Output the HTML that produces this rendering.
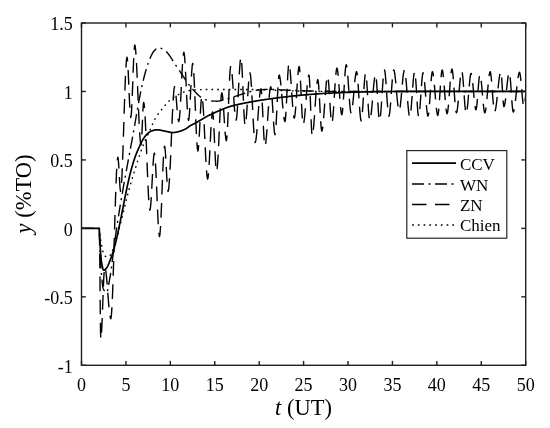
<!DOCTYPE html>
<html><head><meta charset="utf-8"><style>
html,body{margin:0;padding:0;background:#fff;}
svg{display:block;will-change:transform;}
text{font-family:"Liberation Serif",serif;fill:#000;}
</style></head><body>
<svg width="550" height="428" viewBox="0 0 550 428">
<rect width="550" height="428" fill="#fff"/>
<defs><clipPath id="ax"><rect x="81.5" y="23.0" width="444.20" height="342.30"/></clipPath></defs>
<g fill="none" stroke="#000" stroke-width="1.4" stroke-linejoin="round" clip-path="url(#ax)">
<path d="M81.50,228.38 L99.27,228.38 L99.45,232.45 L99.62,236.34 L99.80,239.97 L99.98,243.27 L100.16,246.18 L100.33,248.84 L100.51,251.42 L100.69,253.87 L100.87,256.14 L101.04,258.17 L101.22,259.93 L101.40,261.35 L101.58,262.45 L101.76,263.47 L101.93,264.45 L102.11,265.40 L102.29,266.28 L102.47,267.10 L102.64,267.85 L102.82,268.50 L103.00,269.07 L103.18,269.52 L103.35,269.86 L103.53,270.07 L103.71,270.14 L103.89,270.13 L104.07,270.09 L104.24,270.02 L104.42,269.93 L104.60,269.82 L104.78,269.70 L104.95,269.55 L105.13,269.40 L105.31,269.23 L105.49,269.05 L105.66,268.86 L105.84,268.67 L106.02,268.48 L106.20,268.28 L106.38,268.09 L106.55,267.88 L106.73,267.65 L106.91,267.40 L107.09,267.13 L107.26,266.84 L107.44,266.53 L107.62,266.20 L107.80,265.85 L107.97,265.49 L108.15,265.12 L108.33,264.73 L108.51,264.33 L108.69,263.92 L108.86,263.50 L109.04,263.07 L109.22,262.63 L109.40,262.18 L109.57,261.73 L109.75,261.28 L109.93,260.82 L110.11,260.35 L110.28,259.89 L110.46,259.43 L110.64,258.96 L110.82,258.50 L110.99,258.04 L111.17,257.56 L111.35,257.07 L111.53,256.58 L111.71,256.07 L111.88,255.55 L112.06,255.03 L112.24,254.49 L112.42,253.94 L112.59,253.39 L112.77,252.83 L112.95,252.25 L113.13,251.67 L113.30,251.09 L113.48,250.49 L113.66,249.88 L113.84,249.27 L114.02,248.65 L114.19,248.03 L114.37,247.39 L114.55,246.75 L114.73,246.10 L114.90,245.45 L115.08,244.79 L115.26,244.13 L115.44,243.45 L115.61,242.75 L115.79,242.04 L115.97,241.31 L116.15,240.56 L116.33,239.80 L116.50,239.03 L116.68,238.25 L116.86,237.45 L117.04,236.65 L117.21,235.84 L117.39,235.02 L117.57,234.20 L117.75,233.37 L117.92,232.54 L118.10,231.71 L118.28,230.87 L118.46,230.04 L118.64,229.21 L118.81,228.38 L118.99,227.55 L119.17,226.71 L119.35,225.86 L119.52,225.01 L119.70,224.15 L119.88,223.29 L120.06,222.42 L120.23,221.54 L120.41,220.67 L120.59,219.79 L120.77,218.91 L120.94,218.02 L121.12,217.14 L121.30,216.26 L121.48,215.37 L121.66,214.49 L121.83,213.59 L122.01,212.69 L122.19,211.78 L122.37,210.87 L122.54,209.96 L122.72,209.04 L122.90,208.12 L123.08,207.19 L123.25,206.27 L123.43,205.34 L123.61,204.42 L123.79,203.50 L123.97,202.57 L124.14,201.66 L124.32,200.74 L124.50,199.83 L124.68,198.92 L124.85,198.02 L125.03,197.13 L125.21,196.24 L125.39,195.36 L125.56,194.49 L125.74,193.63 L125.92,192.78 L126.10,191.94 L126.28,191.09 L126.45,190.24 L126.63,189.40 L126.81,188.56 L126.99,187.72 L127.16,186.88 L127.34,186.05 L127.52,185.22 L127.70,184.39 L127.87,183.57 L128.05,182.76 L128.23,181.95 L128.41,181.15 L128.59,180.35 L128.76,179.57 L128.94,178.79 L129.12,178.02 L129.30,177.26 L129.47,176.51 L129.65,175.77 L129.83,175.04 L130.01,174.32 L130.18,173.62 L130.36,172.93 L130.54,172.25 L130.72,171.57 L130.90,170.90 L131.07,170.23 L131.25,169.58 L131.43,168.92 L131.61,168.28 L131.78,167.64 L131.96,167.01 L132.14,166.38 L132.32,165.76 L132.49,165.15 L132.67,164.54 L132.85,163.95 L133.03,163.36 L133.20,162.77 L133.38,162.20 L133.56,161.63 L133.74,161.07 L133.92,160.51 L134.09,159.97 L134.27,159.43 L134.45,158.90 L134.63,158.38 L134.80,157.87 L134.98,157.36 L135.16,156.87 L135.34,156.38 L135.51,155.90 L135.69,155.42 L135.87,154.96 L136.05,154.50 L136.23,154.05 L136.40,153.60 L136.58,153.16 L136.76,152.72 L136.94,152.29 L137.11,151.86 L137.29,151.44 L137.47,151.02 L137.65,150.60 L137.82,150.19 L138.00,149.78 L138.18,149.37 L138.36,148.97 L138.54,148.56 L138.71,148.15 L138.89,147.75 L139.07,147.34 L139.25,146.94 L139.42,146.53 L139.60,146.13 L139.78,145.73 L139.96,145.34 L140.13,144.94 L140.31,144.55 L140.49,144.17 L140.67,143.79 L140.85,143.42 L141.02,143.05 L141.20,142.68 L141.38,142.33 L141.56,141.98 L141.73,141.64 L141.91,141.31 L142.09,140.98 L142.27,140.67 L142.44,140.36 L142.62,140.07 L142.80,139.78 L142.98,139.49 L143.15,139.21 L143.33,138.93 L143.51,138.65 L143.69,138.37 L143.87,138.10 L144.04,137.84 L144.22,137.57 L144.40,137.31 L144.58,137.06 L144.75,136.81 L144.93,136.56 L145.11,136.32 L145.29,136.09 L145.46,135.86 L145.64,135.63 L145.82,135.41 L146.00,135.20 L146.18,135.00 L146.35,134.80 L146.53,134.60 L146.71,134.42 L146.89,134.24 L147.06,134.07 L147.24,133.91 L147.42,133.75 L147.60,133.59 L147.77,133.43 L147.95,133.28 L148.13,133.13 L148.31,132.98 L148.49,132.83 L148.66,132.69 L148.84,132.55 L149.02,132.41 L149.20,132.27 L149.37,132.14 L149.55,132.02 L149.73,131.89 L149.91,131.78 L150.08,131.66 L150.26,131.55 L150.44,131.45 L150.62,131.35 L150.80,131.26 L150.97,131.17 L151.15,131.09 L151.33,131.02 L151.51,130.95 L151.68,130.89 L151.86,130.84 L152.04,130.78 L152.22,130.72 L152.39,130.67 L152.57,130.61 L152.75,130.56 L152.93,130.51 L153.11,130.46 L153.28,130.41 L153.46,130.36 L153.64,130.31 L153.82,130.26 L153.99,130.22 L154.17,130.17 L154.35,130.13 L154.53,130.09 L154.70,130.05 L154.88,130.02 L155.06,129.99 L155.24,129.95 L155.41,129.93 L155.59,129.90 L155.77,129.88 L155.95,129.86 L156.13,129.84 L156.30,129.82 L156.48,129.81 L156.66,129.80 L156.84,129.80 L157.01,129.80 L157.19,129.80 L157.37,129.80 L157.55,129.81 L157.72,129.82 L157.90,129.83 L158.08,129.84 L158.26,129.86 L158.44,129.88 L158.61,129.90 L158.79,129.92 L158.97,129.94 L159.15,129.97 L159.32,129.99 L159.50,130.02 L159.68,130.05 L159.86,130.08 L160.03,130.11 L160.21,130.15 L160.39,130.18 L160.57,130.22 L160.75,130.25 L160.92,130.29 L161.10,130.33 L161.28,130.37 L161.46,130.41 L161.63,130.45 L161.81,130.49 L161.99,130.53 L162.17,130.57 L162.34,130.61 L162.52,130.65 L162.70,130.69 L162.88,130.73 L163.06,130.77 L163.23,130.81 L163.41,130.85 L163.59,130.89 L163.77,130.93 L163.94,130.96 L164.12,131.00 L164.30,131.04 L164.48,131.07 L164.65,131.10 L164.83,131.14 L165.01,131.17 L165.19,131.20 L165.36,131.23 L165.54,131.26 L165.72,131.30 L165.90,131.33 L166.08,131.37 L166.25,131.41 L166.43,131.45 L166.61,131.48 L166.79,131.52 L166.96,131.56 L167.14,131.60 L167.32,131.64 L167.50,131.68 L167.67,131.72 L167.85,131.77 L168.03,131.81 L168.21,131.85 L168.39,131.89 L168.56,131.93 L168.74,131.96 L168.92,132.00 L169.10,132.04 L169.27,132.08 L169.45,132.12 L169.63,132.15 L169.81,132.19 L169.98,132.22 L170.16,132.25 L170.34,132.28 L170.52,132.31 L170.70,132.34 L170.87,132.37 L171.05,132.39 L171.23,132.42 L171.41,132.44 L171.58,132.46 L171.76,132.47 L171.94,132.49 L172.12,132.50 L172.29,132.52 L172.47,132.52 L172.65,132.53 L172.83,132.53 L173.01,132.54 L173.18,132.53 L173.36,132.53 L173.54,132.52 L173.72,132.51 L173.89,132.50 L174.07,132.49 L174.25,132.47 L174.43,132.45 L174.60,132.43 L174.78,132.41 L174.96,132.38 L175.14,132.36 L175.32,132.33 L175.49,132.30 L175.67,132.26 L175.85,132.23 L176.03,132.20 L176.20,132.16 L176.38,132.12 L176.56,132.08 L176.74,132.04 L176.91,132.00 L177.09,131.96 L177.27,131.92 L177.45,131.88 L177.62,131.84 L177.80,131.79 L177.98,131.75 L178.16,131.70 L178.34,131.66 L178.51,131.62 L178.69,131.57 L178.87,131.53 L179.05,131.48 L179.22,131.44 L179.40,131.40 L179.58,131.35 L179.76,131.30 L179.93,131.25 L180.11,131.20 L180.29,131.15 L180.47,131.09 L180.65,131.03 L180.82,130.98 L181.00,130.92 L181.18,130.85 L181.36,130.79 L181.53,130.72 L181.71,130.66 L181.89,130.59 L182.07,130.52 L182.24,130.45 L182.42,130.38 L182.60,130.30 L182.78,130.23 L182.96,130.15 L183.13,130.08 L183.31,130.00 L183.49,129.92 L183.67,129.84 L183.84,129.75 L184.02,129.67 L184.20,129.59 L184.38,129.50 L184.55,129.42 L184.73,129.33 L184.91,129.24 L185.09,129.16 L185.27,129.07 L185.44,128.98 L185.62,128.88 L185.80,128.78 L185.98,128.68 L186.15,128.57 L186.33,128.46 L186.51,128.34 L186.69,128.22 L186.86,128.10 L187.04,127.97 L187.22,127.85 L187.40,127.72 L187.57,127.59 L187.75,127.45 L187.93,127.32 L188.11,127.19 L188.29,127.06 L188.46,126.93 L188.64,126.80 L188.82,126.67 L189.00,126.55 L189.17,126.42 L189.35,126.30 L189.53,126.19 L189.71,126.07 L189.88,125.96 L190.06,125.86 L190.24,125.75 L190.42,125.65 L190.60,125.55 L190.77,125.45 L190.95,125.35 L191.13,125.26 L191.31,125.16 L191.48,125.06 L191.66,124.97 L191.84,124.88 L192.02,124.78 L192.19,124.69 L192.37,124.60 L192.55,124.51 L192.73,124.42 L192.91,124.33 L193.08,124.24 L193.26,124.15 L193.44,124.06 L193.62,123.97 L193.79,123.88 L193.97,123.79 L194.15,123.70 L194.33,123.61 L194.50,123.52 L194.68,123.43 L194.86,123.34 L195.04,123.25 L195.22,123.15 L195.39,123.06 L195.57,122.97 L195.75,122.87 L195.93,122.77 L196.10,122.68 L196.28,122.58 L196.46,122.48 L196.64,122.38 L196.81,122.28 L196.99,122.18 L197.17,122.08 L197.35,121.98 L197.53,121.88 L197.70,121.78 L197.88,121.68 L198.06,121.57 L198.24,121.47 L198.41,121.37 L198.59,121.26 L198.77,121.16 L198.95,121.05 L199.12,120.95 L199.30,120.84 L199.48,120.74 L199.66,120.63 L199.83,120.53 L200.01,120.42 L200.19,120.31 L200.37,120.21 L200.55,120.10 L200.72,120.00 L200.90,119.89 L201.08,119.78 L201.26,119.68 L201.43,119.57 L201.61,119.46 L201.79,119.36 L201.97,119.25 L202.14,119.14 L202.32,119.04 L202.50,118.93 L202.68,118.83 L202.86,118.72 L203.03,118.61 L203.21,118.51 L203.39,118.40 L203.57,118.30 L203.74,118.19 L203.92,118.09 L204.10,117.99 L204.28,117.88 L204.45,117.78 L204.63,117.68 L204.81,117.57 L204.99,117.47 L205.17,117.37 L205.34,117.27 L205.52,117.17 L205.70,117.07 L205.88,116.97 L206.05,116.87 L206.23,116.77 L206.41,116.68 L206.59,116.58 L206.76,116.48 L206.94,116.39 L207.12,116.29 L207.30,116.20 L207.48,116.11 L207.65,116.01 L207.83,115.92 L208.01,115.83 L208.19,115.74 L208.36,115.65 L208.54,115.56 L208.72,115.47 L208.90,115.38 L209.07,115.29 L209.25,115.21 L209.43,115.12 L209.61,115.03 L209.78,114.94 L209.96,114.86 L210.14,114.77 L210.32,114.68 L210.50,114.60 L210.67,114.51 L210.85,114.42 L211.03,114.34 L211.21,114.25 L211.38,114.17 L211.56,114.09 L211.74,114.00 L211.92,113.92 L212.09,113.83 L212.27,113.75 L212.45,113.67 L212.63,113.58 L212.81,113.50 L212.98,113.42 L213.16,113.34 L213.34,113.25 L213.52,113.17 L213.69,113.09 L213.87,113.01 L214.05,112.93 L214.23,112.85 L214.40,112.77 L214.58,112.69 L214.76,112.61 L214.94,112.53 L215.12,112.45 L215.29,112.37 L215.47,112.29 L215.65,112.21 L215.83,112.13 L216.00,112.06 L216.18,111.98 L216.36,111.90 L216.54,111.82 L216.71,111.74 L216.89,111.67 L217.07,111.59 L217.25,111.51 L217.43,111.44 L217.60,111.36 L217.78,111.28 L217.96,111.21 L218.14,111.13 L218.31,111.05 L218.49,110.98 L218.67,110.90 L218.85,110.83 L219.02,110.75 L219.20,110.68 L219.38,110.60 L219.56,110.53 L219.74,110.45 L219.91,110.38 L220.09,110.30 L220.27,110.23 L220.45,110.16 L220.62,110.08 L220.80,110.01 L220.98,109.93 L221.16,109.86 L221.33,109.78 L221.51,109.71 L221.69,109.64 L221.87,109.56 L222.04,109.49 L222.22,109.41 L222.40,109.34 L222.58,109.26 L222.76,109.19 L222.93,109.11 L223.11,109.04 L223.29,108.96 L223.47,108.89 L223.64,108.82 L223.82,108.74 L224.00,108.67 L224.18,108.60 L224.35,108.52 L224.53,108.45 L224.71,108.38 L224.89,108.31 L225.07,108.24 L225.24,108.16 L225.42,108.09 L225.60,108.02 L225.78,107.95 L225.95,107.89 L226.13,107.82 L226.31,107.75 L226.49,107.68 L226.66,107.62 L226.84,107.55 L227.02,107.49 L227.20,107.42 L227.38,107.36 L227.55,107.29 L227.73,107.23 L227.91,107.17 L228.09,107.11 L228.26,107.05 L228.44,106.99 L228.62,106.93 L228.80,106.88 L228.97,106.82 L229.15,106.77 L229.33,106.71 L229.51,106.66 L229.69,106.61 L229.86,106.55 L230.04,106.50 L230.22,106.45 L230.40,106.40 L230.57,106.35 L230.75,106.30 L230.93,106.25 L231.11,106.20 L231.28,106.15 L231.46,106.10 L231.64,106.05 L231.82,106.00 L231.99,105.95 L232.17,105.91 L232.35,105.86 L232.53,105.81 L232.71,105.76 L232.88,105.72 L233.06,105.67 L233.24,105.62 L233.42,105.58 L233.59,105.53 L233.77,105.49 L233.95,105.44 L234.13,105.40 L234.30,105.35 L234.48,105.31 L234.66,105.26 L234.84,105.22 L235.02,105.17 L235.19,105.13 L235.37,105.09 L235.55,105.04 L235.73,105.00 L235.90,104.96 L236.08,104.92 L236.26,104.87 L236.44,104.83 L236.61,104.79 L236.79,104.75 L236.97,104.71 L237.15,104.67 L237.33,104.63 L237.50,104.59 L237.68,104.54 L237.86,104.50 L238.04,104.46 L238.21,104.42 L238.39,104.38 L238.57,104.35 L238.75,104.31 L238.92,104.27 L239.10,104.23 L239.28,104.19 L239.46,104.15 L239.64,104.11 L239.81,104.07 L239.99,104.04 L240.17,104.00 L240.35,103.96 L240.52,103.92 L240.70,103.88 L240.88,103.85 L241.06,103.81 L241.23,103.77 L241.41,103.74 L241.59,103.70 L241.77,103.66 L241.95,103.63 L242.12,103.59 L242.30,103.55 L242.48,103.52 L242.66,103.48 L242.83,103.45 L243.01,103.41 L243.19,103.37 L243.37,103.34 L243.54,103.30 L243.72,103.27 L243.90,103.23 L244.08,103.20 L244.25,103.16 L244.43,103.13 L244.61,103.09 L244.79,103.06 L244.97,103.02 L245.14,102.99 L245.32,102.96 L245.50,102.92 L245.68,102.89 L245.85,102.85 L246.03,102.82 L246.21,102.78 L246.39,102.75 L246.56,102.72 L246.74,102.68 L246.92,102.65 L247.10,102.61 L247.28,102.58 L247.45,102.55 L247.63,102.51 L247.81,102.48 L247.99,102.45 L248.16,102.41 L248.34,102.38 L248.52,102.35 L248.70,102.31 L248.87,102.28 L249.05,102.25 L249.23,102.21 L249.41,102.18 L249.59,102.15 L249.76,102.12 L249.94,102.08 L250.12,102.05 L250.30,102.02 L250.47,101.99 L250.65,101.95 L250.83,101.92 L251.01,101.89 L251.18,101.86 L251.36,101.82 L251.54,101.79 L251.72,101.76 L251.90,101.73 L252.07,101.70 L252.25,101.67 L252.43,101.63 L252.61,101.60 L252.78,101.57 L252.96,101.54 L253.14,101.51 L253.32,101.48 L253.49,101.45 L253.67,101.41 L253.85,101.38 L254.03,101.35 L254.20,101.32 L254.38,101.29 L254.56,101.26 L254.74,101.23 L254.92,101.20 L255.09,101.17 L255.27,101.14 L255.45,101.11 L255.63,101.08 L255.80,101.05 L255.98,101.02 L256.16,100.99 L256.34,100.96 L256.51,100.93 L256.69,100.90 L256.87,100.87 L257.05,100.84 L257.23,100.81 L257.40,100.78 L257.58,100.75 L257.76,100.72 L257.94,100.69 L258.11,100.66 L258.29,100.63 L258.47,100.60 L258.65,100.57 L258.82,100.55 L259.00,100.52 L259.18,100.49 L259.36,100.46 L259.54,100.43 L259.71,100.40 L259.89,100.37 L260.07,100.34 L260.25,100.32 L260.42,100.29 L260.60,100.26 L260.78,100.23 L260.96,100.20 L261.13,100.17 L261.31,100.15 L261.49,100.12 L261.67,100.09 L261.85,100.06 L262.02,100.03 L262.20,100.01 L262.38,99.98 L262.56,99.95 L262.73,99.92 L262.91,99.90 L263.09,99.87 L263.27,99.84 L263.44,99.81 L263.62,99.79 L263.80,99.76 L263.98,99.73 L264.16,99.71 L264.33,99.68 L264.51,99.65 L264.69,99.63 L264.87,99.60 L265.04,99.57 L265.22,99.55 L265.40,99.52 L265.58,99.49 L265.75,99.47 L265.93,99.44 L266.11,99.41 L266.29,99.39 L266.46,99.36 L266.64,99.33 L266.82,99.31 L267.00,99.28 L267.18,99.26 L267.35,99.23 L267.53,99.21 L267.71,99.18 L267.89,99.15 L268.06,99.13 L268.24,99.10 L268.42,99.08 L268.60,99.05 L268.77,99.03 L268.95,99.00 L269.13,98.98 L269.31,98.95 L269.49,98.92 L269.66,98.90 L269.84,98.87 L270.02,98.85 L270.20,98.82 L270.37,98.80 L270.55,98.77 L270.73,98.75 L270.91,98.73 L271.08,98.70 L271.26,98.68 L271.44,98.65 L271.62,98.63 L271.80,98.60 L271.97,98.58 L272.15,98.55 L272.33,98.53 L272.51,98.51 L272.68,98.48 L272.86,98.46 L273.04,98.43 L273.22,98.41 L273.39,98.39 L273.57,98.36 L273.75,98.34 L273.93,98.31 L274.11,98.29 L274.28,98.27 L274.46,98.24 L274.64,98.22 L274.82,98.20 L274.99,98.17 L275.17,98.15 L275.35,98.13 L275.53,98.10 L275.70,98.08 L275.88,98.06 L276.06,98.03 L276.24,98.01 L276.41,97.99 L276.59,97.96 L276.77,97.94 L276.95,97.92 L277.13,97.89 L277.30,97.87 L277.48,97.85 L277.66,97.83 L277.84,97.80 L278.01,97.78 L278.19,97.76 L278.37,97.73 L278.55,97.71 L278.72,97.69 L278.90,97.67 L279.08,97.64 L279.26,97.62 L279.44,97.60 L279.61,97.58 L279.79,97.55 L279.97,97.53 L280.15,97.51 L280.32,97.49 L280.50,97.47 L280.68,97.44 L280.86,97.42 L281.03,97.40 L281.21,97.38 L281.39,97.36 L281.57,97.33 L281.75,97.31 L281.92,97.29 L282.10,97.27 L282.28,97.25 L282.46,97.22 L282.63,97.20 L282.81,97.18 L282.99,97.16 L283.17,97.14 L283.34,97.12 L283.52,97.10 L283.70,97.07 L283.88,97.05 L284.06,97.03 L284.23,97.01 L284.41,96.99 L284.59,96.97 L284.77,96.95 L284.94,96.92 L285.12,96.90 L285.30,96.88 L285.48,96.86 L285.65,96.84 L285.83,96.82 L286.01,96.80 L286.19,96.78 L286.37,96.76 L286.54,96.74 L286.72,96.72 L286.90,96.70 L287.08,96.68 L287.25,96.65 L287.43,96.63 L287.61,96.61 L287.79,96.59 L287.96,96.57 L288.14,96.55 L288.32,96.53 L288.50,96.51 L288.67,96.49 L288.85,96.47 L289.03,96.45 L289.21,96.43 L289.39,96.41 L289.56,96.39 L289.74,96.37 L289.92,96.35 L290.10,96.33 L290.27,96.31 L290.45,96.29 L290.63,96.28 L290.81,96.26 L290.98,96.24 L291.16,96.22 L291.34,96.20 L291.52,96.18 L291.70,96.16 L291.87,96.14 L292.05,96.12 L292.23,96.10 L292.41,96.08 L292.58,96.06 L292.76,96.04 L292.94,96.03 L293.12,96.01 L293.29,95.99 L293.47,95.97 L293.65,95.95 L293.83,95.93 L294.01,95.91 L294.18,95.90 L294.36,95.88 L294.54,95.86 L294.72,95.84 L294.89,95.82 L295.07,95.80 L295.25,95.79 L295.43,95.77 L295.60,95.75 L295.78,95.73 L295.96,95.71 L296.14,95.70 L296.32,95.68 L296.49,95.66 L296.67,95.64 L296.85,95.63 L297.03,95.61 L297.20,95.59 L297.38,95.57 L297.56,95.56 L297.74,95.54 L297.91,95.52 L298.09,95.50 L298.27,95.49 L298.45,95.47 L298.62,95.45 L298.80,95.44 L298.98,95.42 L299.16,95.40 L299.34,95.39 L299.51,95.37 L299.69,95.35 L299.87,95.34 L300.05,95.32 L300.22,95.30 L300.40,95.29 L300.58,95.27 L300.76,95.25 L300.93,95.24 L301.11,95.22 L301.29,95.20 L301.47,95.19 L301.65,95.17 L301.82,95.16 L302.00,95.14 L302.18,95.13 L302.36,95.11 L302.53,95.09 L302.71,95.08 L302.89,95.06 L303.07,95.05 L303.24,95.03 L303.42,95.01 L303.60,95.00 L303.78,94.98 L303.96,94.97 L304.13,94.95 L304.31,94.94 L304.49,94.92 L304.67,94.90 L304.84,94.89 L305.02,94.87 L305.20,94.86 L305.38,94.84 L305.55,94.83 L305.73,94.81 L305.91,94.80 L306.09,94.78 L306.27,94.77 L306.44,94.75 L306.62,94.73 L306.80,94.72 L306.98,94.70 L307.15,94.69 L307.33,94.67 L307.51,94.66 L307.69,94.64 L307.86,94.63 L308.04,94.61 L308.22,94.60 L308.40,94.58 L308.58,94.57 L308.75,94.55 L308.93,94.54 L309.11,94.52 L309.29,94.51 L309.46,94.49 L309.64,94.48 L309.82,94.46 L310.00,94.45 L310.17,94.43 L310.35,94.42 L310.53,94.40 L310.71,94.39 L310.88,94.37 L311.06,94.36 L311.24,94.35 L311.42,94.33 L311.60,94.32 L311.77,94.30 L311.95,94.29 L312.13,94.27 L312.31,94.26 L312.48,94.25 L312.66,94.23 L312.84,94.22 L313.02,94.20 L313.19,94.19 L313.37,94.17 L313.55,94.16 L313.73,94.15 L313.91,94.13 L314.08,94.12 L314.26,94.11 L314.44,94.09 L314.62,94.08 L314.79,94.06 L314.97,94.05 L315.15,94.04 L315.33,94.02 L315.50,94.01 L315.68,94.00 L315.86,93.98 L316.04,93.97 L316.22,93.96 L316.39,93.94 L316.57,93.93 L316.75,93.92 L316.93,93.90 L317.10,93.89 L317.28,93.88 L317.46,93.87 L317.64,93.85 L317.81,93.84 L317.99,93.83 L318.17,93.81 L318.35,93.80 L318.53,93.79 L318.70,93.78 L318.88,93.76 L319.06,93.75 L319.24,93.74 L319.41,93.73 L319.59,93.72 L319.77,93.70 L319.95,93.69 L320.12,93.68 L320.30,93.67 L320.48,93.66 L320.66,93.64 L320.83,93.63 L321.01,93.62 L321.19,93.61 L321.37,93.60 L321.55,93.59 L321.72,93.57 L321.90,93.56 L322.08,93.55 L322.26,93.54 L322.43,93.53 L322.61,93.52 L322.79,93.51 L322.97,93.50 L323.14,93.49 L323.32,93.48 L323.50,93.46 L323.68,93.45 L323.86,93.44 L324.03,93.43 L324.21,93.42 L324.39,93.41 L324.57,93.40 L324.74,93.39 L324.92,93.38 L325.10,93.37 L325.28,93.36 L325.45,93.35 L325.63,93.34 L325.81,93.33 L325.99,93.32 L326.17,93.31 L326.34,93.30 L326.52,93.29 L326.70,93.29 L326.88,93.28 L327.05,93.27 L327.23,93.26 L327.41,93.25 L327.59,93.24 L327.76,93.23 L327.94,93.22 L328.12,93.21 L328.30,93.20 L328.48,93.20 L328.65,93.19 L328.83,93.18 L329.01,93.17 L329.19,93.16 L329.36,93.15 L329.54,93.14 L329.72,93.14 L329.90,93.13 L330.07,93.12 L330.25,93.11 L330.43,93.10 L330.61,93.09 L330.79,93.08 L330.96,93.08 L331.14,93.07 L331.32,93.06 L331.50,93.05 L331.67,93.04 L331.85,93.03 L332.03,93.03 L332.21,93.02 L332.38,93.01 L332.56,93.00 L332.74,92.99 L332.92,92.98 L333.09,92.98 L333.27,92.97 L333.45,92.96 L333.63,92.95 L333.81,92.94 L333.98,92.93 L334.16,92.93 L334.34,92.92 L334.52,92.91 L334.69,92.90 L334.87,92.89 L335.05,92.89 L335.23,92.88 L335.40,92.87 L335.58,92.86 L335.76,92.86 L335.94,92.85 L336.12,92.84 L336.29,92.83 L336.47,92.82 L336.65,92.82 L336.83,92.81 L337.00,92.80 L337.18,92.79 L337.36,92.79 L337.54,92.78 L337.71,92.77 L337.89,92.76 L338.07,92.75 L338.25,92.75 L338.43,92.74 L338.60,92.73 L338.78,92.72 L338.96,92.72 L339.14,92.71 L339.31,92.70 L339.49,92.70 L339.67,92.69 L339.85,92.68 L340.02,92.67 L340.20,92.67 L340.38,92.66 L340.56,92.65 L340.74,92.64 L340.91,92.64 L341.09,92.63 L341.27,92.62 L341.45,92.62 L341.62,92.61 L341.80,92.60 L341.98,92.59 L342.16,92.59 L342.33,92.58 L342.51,92.57 L342.69,92.57 L342.87,92.56 L343.04,92.55 L343.22,92.55 L343.40,92.54 L343.58,92.53 L343.76,92.53 L343.93,92.52 L344.11,92.51 L344.29,92.51 L344.47,92.50 L344.64,92.49 L344.82,92.49 L345.00,92.48 L345.18,92.47 L345.35,92.47 L345.53,92.46 L345.71,92.45 L345.89,92.45 L346.07,92.44 L346.24,92.43 L346.42,92.43 L346.60,92.42 L346.78,92.42 L346.95,92.41 L347.13,92.40 L347.31,92.40 L347.49,92.39 L347.66,92.38 L347.84,92.38 L348.02,92.37 L348.20,92.37 L348.38,92.36 L348.55,92.35 L348.73,92.35 L348.91,92.34 L349.09,92.34 L349.26,92.33 L349.44,92.32 L349.62,92.32 L349.80,92.31 L349.97,92.31 L350.15,92.30 L350.33,92.30 L350.51,92.29 L350.69,92.28 L350.86,92.28 L351.04,92.27 L351.22,92.27 L351.40,92.26 L351.57,92.26 L351.75,92.25 L351.93,92.25 L352.11,92.24 L352.28,92.24 L352.46,92.23 L352.64,92.23 L352.82,92.22 L353.00,92.21 L353.17,92.21 L353.35,92.20 L353.53,92.20 L353.71,92.19 L353.88,92.19 L354.06,92.18 L354.24,92.18 L354.42,92.17 L354.59,92.17 L354.77,92.16 L354.95,92.16 L355.13,92.15 L355.30,92.15 L355.48,92.15 L355.66,92.14 L355.84,92.14 L356.02,92.13 L356.19,92.13 L356.37,92.12 L356.55,92.12 L356.73,92.11 L356.90,92.11 L357.08,92.10 L357.26,92.10 L357.44,92.10 L357.61,92.09 L357.79,92.09 L357.97,92.08 L358.15,92.08 L358.33,92.07 L358.50,92.07 L358.68,92.07 L358.86,92.06 L359.04,92.06 L359.21,92.05 L359.39,92.05 L359.57,92.05 L359.75,92.04 L359.92,92.04 L360.10,92.03 L360.28,92.03 L360.46,92.03 L360.64,92.02 L360.81,92.02 L360.99,92.01 L361.17,92.01 L361.35,92.01 L361.52,92.00 L361.70,92.00 L361.88,92.00 L362.06,91.99 L362.23,91.99 L362.41,91.99 L362.59,91.98 L362.77,91.98 L362.95,91.98 L363.12,91.97 L363.30,91.97 L363.48,91.96 L363.66,91.96 L363.83,91.96 L364.01,91.95 L364.19,91.95 L364.37,91.95 L364.54,91.94 L364.72,91.94 L364.90,91.94 L365.08,91.93 L365.25,91.93 L365.43,91.93 L365.61,91.92 L365.79,91.92 L365.97,91.91 L366.14,91.91 L366.32,91.91 L366.50,91.90 L366.68,91.90 L366.85,91.90 L367.03,91.89 L367.21,91.89 L367.39,91.89 L367.56,91.88 L367.74,91.88 L367.92,91.88 L368.10,91.87 L368.28,91.87 L368.45,91.86 L368.63,91.86 L368.81,91.86 L368.99,91.85 L369.16,91.85 L369.34,91.85 L369.52,91.84 L369.70,91.84 L369.87,91.84 L370.05,91.83 L370.23,91.83 L370.41,91.83 L370.59,91.82 L370.76,91.82 L370.94,91.82 L371.12,91.81 L371.30,91.81 L371.47,91.81 L371.65,91.80 L371.83,91.80 L372.01,91.80 L372.18,91.79 L372.36,91.79 L372.54,91.79 L372.72,91.78 L372.90,91.78 L373.07,91.78 L373.25,91.77 L373.43,91.77 L373.61,91.77 L373.78,91.76 L373.96,91.76 L374.14,91.76 L374.32,91.75 L374.49,91.75 L374.67,91.75 L374.85,91.74 L375.03,91.74 L375.21,91.74 L375.38,91.73 L375.56,91.73 L375.74,91.73 L375.92,91.72 L376.09,91.72 L376.27,91.72 L376.45,91.71 L376.63,91.71 L376.80,91.71 L376.98,91.70 L377.16,91.70 L377.34,91.70 L377.51,91.70 L377.69,91.69 L377.87,91.69 L378.05,91.69 L378.23,91.68 L378.40,91.68 L378.58,91.68 L378.76,91.67 L378.94,91.67 L379.11,91.67 L379.29,91.67 L379.47,91.66 L379.65,91.66 L379.82,91.66 L380.00,91.65 L380.18,91.65 L380.36,91.65 L380.54,91.65 L380.71,91.64 L380.89,91.64 L381.07,91.64 L381.25,91.63 L381.42,91.63 L381.60,91.63 L381.78,91.63 L381.96,91.62 L382.13,91.62 L382.31,91.62 L382.49,91.62 L382.67,91.61 L382.85,91.61 L383.02,91.61 L383.20,91.60 L383.38,91.60 L383.56,91.60 L383.73,91.60 L383.91,91.59 L384.09,91.59 L384.27,91.59 L384.44,91.59 L384.62,91.58 L384.80,91.58 L384.98,91.58 L385.16,91.58 L385.33,91.58 L385.51,91.57 L385.69,91.57 L385.87,91.57 L386.04,91.57 L386.22,91.56 L386.40,91.56 L386.58,91.56 L386.75,91.56 L386.93,91.55 L387.11,91.55 L387.29,91.55 L387.46,91.55 L387.64,91.55 L387.82,91.54 L388.00,91.54 L388.18,91.54 L388.35,91.54 L388.53,91.54 L388.71,91.53 L388.89,91.53 L389.06,91.53 L389.24,91.53 L389.42,91.53 L389.60,91.52 L389.77,91.52 L389.95,91.52 L390.13,91.52 L390.31,91.52 L390.49,91.52 L390.66,91.51 L390.84,91.51 L391.02,91.51 L391.20,91.51 L391.37,91.51 L391.55,91.51 L391.73,91.50 L391.91,91.50 L392.08,91.50 L392.26,91.50 L392.44,91.50 L392.62,91.50 L392.80,91.50 L392.97,91.49 L393.15,91.49 L393.33,91.49 L393.51,91.49 L393.68,91.49 L393.86,91.49 L394.04,91.49 L394.22,91.48 L394.39,91.48 L394.57,91.48 L394.75,91.48 L394.93,91.48 L395.11,91.48 L395.28,91.48 L395.46,91.48 L395.64,91.48 L395.82,91.48 L395.99,91.47 L396.17,91.47 L396.35,91.47 L396.53,91.47 L396.70,91.47 L396.88,91.47 L397.06,91.47 L397.24,91.47 L397.42,91.47 L397.59,91.47 L397.77,91.47 L397.95,91.47 L398.13,91.47 L398.30,91.46 L398.48,91.46 L398.66,91.46 L398.84,91.46 L399.01,91.46 L399.19,91.46 L399.37,91.46 L399.55,91.46 L399.72,91.46 L399.90,91.46 L400.08,91.46 L400.26,91.46 L400.44,91.46 L400.61,91.46 L400.79,91.46 L400.97,91.46 L401.15,91.46 L401.32,91.46 L401.50,91.46 L401.68,91.46 L401.86,91.46 L402.03,91.46 L402.21,91.46 L402.39,91.46 L402.57,91.46 L402.75,91.46 L402.92,91.46 L403.10,91.46 L403.28,91.46 L403.46,91.46 L403.63,91.46 L403.81,91.46 L403.99,91.46 L404.17,91.46 L404.34,91.46 L404.52,91.46 L404.70,91.46 L404.88,91.46 L405.06,91.46 L405.23,91.46 L405.41,91.46 L405.59,91.46 L405.77,91.46 L405.94,91.46 L406.12,91.46 L406.30,91.46 L406.48,91.46 L406.65,91.46 L406.83,91.46 L407.01,91.46 L407.19,91.46 L407.37,91.46 L407.54,91.46 L407.72,91.46 L407.90,91.46 L408.08,91.46 L408.25,91.46 L408.43,91.46 L408.61,91.46 L408.79,91.46 L408.96,91.46 L409.14,91.46 L409.32,91.46 L409.50,91.46 L409.67,91.46 L409.85,91.46 L410.03,91.46 L410.21,91.46 L410.39,91.46 L410.56,91.46 L410.74,91.46 L410.92,91.46 L411.10,91.46 L411.27,91.46 L411.45,91.46 L411.63,91.46 L411.81,91.46 L411.98,91.46 L412.16,91.46 L412.34,91.46 L412.52,91.46 L412.70,91.46 L412.87,91.46 L413.05,91.46 L413.23,91.46 L413.41,91.46 L413.58,91.46 L413.76,91.46 L413.94,91.46 L414.12,91.46 L414.29,91.46 L414.47,91.46 L414.65,91.46 L414.83,91.46 L415.01,91.46 L415.18,91.46 L415.36,91.46 L415.54,91.46 L415.72,91.46 L415.89,91.46 L416.07,91.46 L416.25,91.46 L416.43,91.46 L416.60,91.46 L416.78,91.46 L416.96,91.46 L417.14,91.46 L417.32,91.46 L417.49,91.46 L417.67,91.46 L417.85,91.46 L418.03,91.46 L418.20,91.46 L418.38,91.46 L418.56,91.46 L418.74,91.46 L418.91,91.46 L419.09,91.46 L419.27,91.46 L419.45,91.46 L419.63,91.46 L419.80,91.46 L419.98,91.46 L420.16,91.46 L420.34,91.46 L420.51,91.46 L420.69,91.46 L420.87,91.46 L421.05,91.46 L421.22,91.46 L421.40,91.46 L421.58,91.46 L421.76,91.46 L421.93,91.46 L422.11,91.46 L422.29,91.46 L422.47,91.46 L422.65,91.46 L422.82,91.46 L423.00,91.46 L423.18,91.46 L423.36,91.46 L423.53,91.46 L423.71,91.46 L423.89,91.46 L424.07,91.46 L424.24,91.46 L424.42,91.46 L424.60,91.46 L424.78,91.46 L424.96,91.46 L425.13,91.46 L425.31,91.46 L425.49,91.46 L425.67,91.46 L425.84,91.46 L426.02,91.46 L426.20,91.46 L426.38,91.46 L426.55,91.46 L426.73,91.46 L426.91,91.46 L427.09,91.46 L427.27,91.46 L427.44,91.46 L427.62,91.46 L427.80,91.46 L427.98,91.46 L428.15,91.46 L428.33,91.46 L428.51,91.46 L428.69,91.46 L428.86,91.46 L429.04,91.46 L429.22,91.46 L429.40,91.46 L429.58,91.46 L429.75,91.46 L429.93,91.46 L430.11,91.46 L430.29,91.46 L430.46,91.46 L430.64,91.46 L430.82,91.46 L431.00,91.46 L431.17,91.46 L431.35,91.46 L431.53,91.46 L431.71,91.46 L431.88,91.46 L432.06,91.46 L432.24,91.46 L432.42,91.46 L432.60,91.46 L432.77,91.46 L432.95,91.46 L433.13,91.46 L433.31,91.46 L433.48,91.46 L433.66,91.46 L433.84,91.46 L434.02,91.46 L434.19,91.46 L434.37,91.46 L434.55,91.46 L434.73,91.46 L434.91,91.46 L435.08,91.46 L435.26,91.46 L435.44,91.46 L435.62,91.46 L435.79,91.46 L435.97,91.46 L436.15,91.46 L436.33,91.46 L436.50,91.46 L436.68,91.46 L436.86,91.46 L437.04,91.46 L437.22,91.46 L437.39,91.46 L437.57,91.46 L437.75,91.46 L437.93,91.46 L438.10,91.46 L438.28,91.46 L438.46,91.46 L438.64,91.46 L438.81,91.46 L438.99,91.46 L439.17,91.46 L439.35,91.46 L439.53,91.46 L439.70,91.46 L439.88,91.46 L440.06,91.46 L440.24,91.46 L440.41,91.46 L440.59,91.46 L440.77,91.46 L440.95,91.46 L441.12,91.46 L441.30,91.46 L441.48,91.46 L441.66,91.46 L441.84,91.46 L442.01,91.46 L442.19,91.46 L442.37,91.46 L442.55,91.46 L442.72,91.46 L442.90,91.46 L443.08,91.46 L443.26,91.46 L443.43,91.46 L443.61,91.46 L443.79,91.46 L443.97,91.46 L444.14,91.46 L444.32,91.46 L444.50,91.46 L444.68,91.46 L444.86,91.46 L445.03,91.46 L445.21,91.46 L445.39,91.46 L445.57,91.46 L445.74,91.46 L445.92,91.46 L446.10,91.46 L446.28,91.46 L446.45,91.46 L446.63,91.46 L446.81,91.46 L446.99,91.46 L447.17,91.46 L447.34,91.46 L447.52,91.46 L447.70,91.46 L447.88,91.46 L448.05,91.46 L448.23,91.46 L448.41,91.46 L448.59,91.46 L448.76,91.46 L448.94,91.46 L449.12,91.46 L449.30,91.46 L449.48,91.46 L449.65,91.46 L449.83,91.46 L450.01,91.46 L450.19,91.46 L450.36,91.46 L450.54,91.46 L450.72,91.46 L450.90,91.46 L451.07,91.46 L451.25,91.46 L451.43,91.46 L451.61,91.46 L451.79,91.46 L451.96,91.46 L452.14,91.46 L452.32,91.46 L452.50,91.46 L452.67,91.46 L452.85,91.46 L453.03,91.46 L453.21,91.46 L453.38,91.46 L453.56,91.46 L453.74,91.46 L453.92,91.46 L454.09,91.46 L454.27,91.46 L454.45,91.46 L454.63,91.46 L454.81,91.46 L454.98,91.46 L455.16,91.46 L455.34,91.46 L455.52,91.46 L455.69,91.46 L455.87,91.46 L456.05,91.46 L456.23,91.46 L456.40,91.46 L456.58,91.46 L456.76,91.46 L456.94,91.46 L457.12,91.46 L457.29,91.46 L457.47,91.46 L457.65,91.46 L457.83,91.46 L458.00,91.46 L458.18,91.46 L458.36,91.46 L458.54,91.46 L458.71,91.46 L458.89,91.46 L459.07,91.46 L459.25,91.46 L459.43,91.46 L459.60,91.46 L459.78,91.46 L459.96,91.46 L460.14,91.46 L460.31,91.46 L460.49,91.46 L460.67,91.46 L460.85,91.46 L461.02,91.46 L461.20,91.46 L461.38,91.46 L461.56,91.46 L461.74,91.46 L461.91,91.46 L462.09,91.46 L462.27,91.46 L462.45,91.46 L462.62,91.46 L462.80,91.46 L462.98,91.46 L463.16,91.46 L463.33,91.46 L463.51,91.46 L463.69,91.46 L463.87,91.46 L464.05,91.46 L464.22,91.46 L464.40,91.46 L464.58,91.46 L464.76,91.46 L464.93,91.46 L465.11,91.46 L465.29,91.46 L465.47,91.46 L465.64,91.46 L465.82,91.46 L466.00,91.46 L466.18,91.46 L466.35,91.46 L466.53,91.46 L466.71,91.46 L466.89,91.46 L467.07,91.46 L467.24,91.46 L467.42,91.46 L467.60,91.46 L467.78,91.46 L467.95,91.46 L468.13,91.46 L468.31,91.46 L468.49,91.46 L468.66,91.46 L468.84,91.46 L469.02,91.46 L469.20,91.46 L469.38,91.46 L469.55,91.46 L469.73,91.46 L469.91,91.46 L470.09,91.46 L470.26,91.46 L470.44,91.46 L470.62,91.46 L470.80,91.46 L470.97,91.46 L471.15,91.46 L471.33,91.46 L471.51,91.46 L471.69,91.46 L471.86,91.46 L472.04,91.46 L472.22,91.46 L472.40,91.46 L472.57,91.46 L472.75,91.46 L472.93,91.46 L473.11,91.46 L473.28,91.46 L473.46,91.46 L473.64,91.46 L473.82,91.46 L474.00,91.46 L474.17,91.46 L474.35,91.46 L474.53,91.46 L474.71,91.46 L474.88,91.46 L475.06,91.46 L475.24,91.46 L475.42,91.46 L475.59,91.46 L475.77,91.46 L475.95,91.46 L476.13,91.46 L476.30,91.46 L476.48,91.46 L476.66,91.46 L476.84,91.46 L477.02,91.46 L477.19,91.46 L477.37,91.46 L477.55,91.46 L477.73,91.46 L477.90,91.46 L478.08,91.46 L478.26,91.46 L478.44,91.46 L478.61,91.46 L478.79,91.46 L478.97,91.46 L479.15,91.46 L479.33,91.46 L479.50,91.46 L479.68,91.46 L479.86,91.46 L480.04,91.46 L480.21,91.46 L480.39,91.46 L480.57,91.46 L480.75,91.46 L480.92,91.46 L481.10,91.46 L481.28,91.46 L481.46,91.46 L481.64,91.46 L481.81,91.46 L481.99,91.46 L482.17,91.46 L482.35,91.46 L482.52,91.46 L482.70,91.46 L482.88,91.46 L483.06,91.46 L483.23,91.46 L483.41,91.46 L483.59,91.46 L483.77,91.46 L483.95,91.46 L484.12,91.46 L484.30,91.46 L484.48,91.46 L484.66,91.46 L484.83,91.46 L485.01,91.46 L485.19,91.46 L485.37,91.46 L485.54,91.46 L485.72,91.46 L485.90,91.46 L486.08,91.46 L486.26,91.46 L486.43,91.46 L486.61,91.46 L486.79,91.46 L486.97,91.46 L487.14,91.46 L487.32,91.46 L487.50,91.46 L487.68,91.46 L487.85,91.46 L488.03,91.46 L488.21,91.46 L488.39,91.46 L488.56,91.46 L488.74,91.46 L488.92,91.46 L489.10,91.46 L489.28,91.46 L489.45,91.46 L489.63,91.46 L489.81,91.46 L489.99,91.46 L490.16,91.46 L490.34,91.46 L490.52,91.46 L490.70,91.46 L490.87,91.46 L491.05,91.46 L491.23,91.46 L491.41,91.46 L491.59,91.46 L491.76,91.46 L491.94,91.46 L492.12,91.46 L492.30,91.46 L492.47,91.46 L492.65,91.46 L492.83,91.46 L493.01,91.46 L493.18,91.46 L493.36,91.46 L493.54,91.46 L493.72,91.46 L493.90,91.46 L494.07,91.46 L494.25,91.46 L494.43,91.46 L494.61,91.46 L494.78,91.46 L494.96,91.46 L495.14,91.46 L495.32,91.46 L495.49,91.46 L495.67,91.46 L495.85,91.46 L496.03,91.46 L496.21,91.46 L496.38,91.46 L496.56,91.46 L496.74,91.46 L496.92,91.46 L497.09,91.46 L497.27,91.46 L497.45,91.46 L497.63,91.46 L497.80,91.46 L497.98,91.46 L498.16,91.46 L498.34,91.46 L498.51,91.46 L498.69,91.46 L498.87,91.46 L499.05,91.46 L499.23,91.46 L499.40,91.46 L499.58,91.46 L499.76,91.46 L499.94,91.46 L500.11,91.46 L500.29,91.46 L500.47,91.46 L500.65,91.46 L500.82,91.46 L501.00,91.46 L501.18,91.46 L501.36,91.46 L501.54,91.46 L501.71,91.46 L501.89,91.46 L502.07,91.46 L502.25,91.46 L502.42,91.46 L502.60,91.46 L502.78,91.46 L502.96,91.46 L503.13,91.46 L503.31,91.46 L503.49,91.46 L503.67,91.46 L503.85,91.46 L504.02,91.46 L504.20,91.46 L504.38,91.46 L504.56,91.46 L504.73,91.46 L504.91,91.46 L505.09,91.46 L505.27,91.46 L505.44,91.46 L505.62,91.46 L505.80,91.46 L505.98,91.46 L506.16,91.46 L506.33,91.46 L506.51,91.46 L506.69,91.46 L506.87,91.46 L507.04,91.46 L507.22,91.46 L507.40,91.46 L507.58,91.46 L507.75,91.46 L507.93,91.46 L508.11,91.46 L508.29,91.46 L508.47,91.46 L508.64,91.46 L508.82,91.46 L509.00,91.46 L509.18,91.46 L509.35,91.46 L509.53,91.46 L509.71,91.46 L509.89,91.46 L510.06,91.46 L510.24,91.46 L510.42,91.46 L510.60,91.46 L510.77,91.46 L510.95,91.46 L511.13,91.46 L511.31,91.46 L511.49,91.46 L511.66,91.46 L511.84,91.46 L512.02,91.46 L512.20,91.46 L512.37,91.46 L512.55,91.46 L512.73,91.46 L512.91,91.46 L513.08,91.46 L513.26,91.46 L513.44,91.46 L513.62,91.46 L513.80,91.46 L513.97,91.46 L514.15,91.46 L514.33,91.46 L514.51,91.46 L514.68,91.46 L514.86,91.46 L515.04,91.46 L515.22,91.46 L515.39,91.46 L515.57,91.46 L515.75,91.46 L515.93,91.46 L516.11,91.46 L516.28,91.46 L516.46,91.46 L516.64,91.46 L516.82,91.46 L516.99,91.46 L517.17,91.46 L517.35,91.46 L517.53,91.46 L517.70,91.46 L517.88,91.46 L518.06,91.46 L518.24,91.46 L518.42,91.46 L518.59,91.46 L518.77,91.46 L518.95,91.46 L519.13,91.46 L519.30,91.46 L519.48,91.46 L519.66,91.46 L519.84,91.46 L520.01,91.46 L520.19,91.46 L520.37,91.46 L520.55,91.46 L520.72,91.46 L520.90,91.46 L521.08,91.46 L521.26,91.46 L521.44,91.46 L521.61,91.46 L521.79,91.46 L521.97,91.46 L522.15,91.46 L522.32,91.46 L522.50,91.46 L522.68,91.46 L522.86,91.46 L523.03,91.46 L523.21,91.46 L523.39,91.46 L523.57,91.46 L523.75,91.46 L523.92,91.46 L524.10,91.46 L524.28,91.46 L524.46,91.46 L524.63,91.46 L524.81,91.46 L524.99,91.46 L525.17,91.46 L525.34,91.46 L525.52,91.46 L525.70,91.46" stroke-width="1.7"/>
<path d="M81.50,228.38 L99.27,228.38 L99.45,233.87 L99.62,239.27 L99.80,244.47 L99.98,249.37 L100.16,253.86 L100.33,257.83 L100.51,261.19 L100.69,263.92 L100.87,266.50 L101.04,268.98 L101.22,271.38 L101.40,273.66 L101.58,275.84 L101.76,277.88 L101.93,279.79 L102.11,281.55 L102.29,283.15 L102.47,284.58 L102.64,285.83 L102.82,286.88 L103.00,287.74 L103.18,288.39 L103.35,288.83 L103.53,289.24 L103.71,289.63 L103.89,290.00 L104.07,290.35 L104.24,290.68 L104.42,290.99 L104.60,291.27 L104.78,291.54 L104.95,291.78 L105.13,292.00 L105.31,292.19 L105.49,292.35 L105.66,292.48 L105.84,292.59 L106.02,292.67 L106.20,292.72 L106.38,292.73 L106.55,292.67 L106.73,292.48 L106.91,292.18 L107.09,291.78 L107.26,291.27 L107.44,290.68 L107.62,290.01 L107.80,289.26 L107.97,288.45 L108.15,287.59 L108.33,286.67 L108.51,285.72 L108.69,284.74 L108.86,283.73 L109.04,282.71 L109.22,281.68 L109.40,280.65 L109.57,279.64 L109.75,278.64 L109.93,277.67 L110.11,276.68 L110.28,275.63 L110.46,274.53 L110.64,273.37 L110.82,272.16 L110.99,270.91 L111.17,269.62 L111.35,268.29 L111.53,266.94 L111.71,265.57 L111.88,264.18 L112.06,262.77 L112.24,261.36 L112.42,259.94 L112.59,258.53 L112.77,257.12 L112.95,255.72 L113.13,254.34 L113.30,252.99 L113.48,251.66 L113.66,250.33 L113.84,248.99 L114.02,247.64 L114.19,246.28 L114.37,244.92 L114.55,243.55 L114.73,242.17 L114.90,240.80 L115.08,239.44 L115.26,238.08 L115.44,236.73 L115.61,235.39 L115.79,234.07 L115.97,232.77 L116.15,231.48 L116.33,230.22 L116.50,228.99 L116.68,227.78 L116.86,226.58 L117.04,225.40 L117.21,224.22 L117.39,223.05 L117.57,221.90 L117.75,220.75 L117.92,219.61 L118.10,218.48 L118.28,217.35 L118.46,216.24 L118.64,215.13 L118.81,214.02 L118.99,212.93 L119.17,211.84 L119.35,210.76 L119.52,209.68 L119.70,208.61 L119.88,207.55 L120.06,206.49 L120.23,205.43 L120.41,204.38 L120.59,203.33 L120.77,202.29 L120.94,201.25 L121.12,200.21 L121.30,199.18 L121.48,198.15 L121.66,197.12 L121.83,196.09 L122.01,195.07 L122.19,194.04 L122.37,193.02 L122.54,192.00 L122.72,190.98 L122.90,189.96 L123.08,188.94 L123.25,187.92 L123.43,186.89 L123.61,185.87 L123.79,184.86 L123.97,183.85 L124.14,182.84 L124.32,181.84 L124.50,180.84 L124.68,179.84 L124.85,178.85 L125.03,177.87 L125.21,176.88 L125.39,175.90 L125.56,174.92 L125.74,173.95 L125.92,172.97 L126.10,172.00 L126.28,171.03 L126.45,170.07 L126.63,169.10 L126.81,168.14 L126.99,167.18 L127.16,166.22 L127.34,165.26 L127.52,164.30 L127.70,163.34 L127.87,162.39 L128.05,161.43 L128.23,160.48 L128.41,159.52 L128.59,158.56 L128.76,157.61 L128.94,156.65 L129.12,155.69 L129.30,154.74 L129.47,153.78 L129.65,152.82 L129.83,151.86 L130.01,150.90 L130.18,149.93 L130.36,148.97 L130.54,148.00 L130.72,147.04 L130.90,146.08 L131.07,145.12 L131.25,144.17 L131.43,143.22 L131.61,142.26 L131.78,141.31 L131.96,140.36 L132.14,139.40 L132.32,138.45 L132.49,137.49 L132.67,136.53 L132.85,135.56 L133.03,134.59 L133.20,133.62 L133.38,132.64 L133.56,131.66 L133.74,130.67 L133.92,129.67 L134.09,128.66 L134.27,127.65 L134.45,126.63 L134.63,125.60 L134.80,124.56 L134.98,123.53 L135.16,122.48 L135.34,121.44 L135.51,120.39 L135.69,119.35 L135.87,118.30 L136.05,117.26 L136.23,116.21 L136.40,115.17 L136.58,114.14 L136.76,113.11 L136.94,112.08 L137.11,111.07 L137.29,110.05 L137.47,109.05 L137.65,108.06 L137.82,107.08 L138.00,106.11 L138.18,105.15 L138.36,104.20 L138.54,103.25 L138.71,102.30 L138.89,101.35 L139.07,100.41 L139.25,99.47 L139.42,98.53 L139.60,97.60 L139.78,96.67 L139.96,95.75 L140.13,94.83 L140.31,93.92 L140.49,93.02 L140.67,92.13 L140.85,91.25 L141.02,90.38 L141.20,89.52 L141.38,88.67 L141.56,87.83 L141.73,87.01 L141.91,86.19 L142.09,85.40 L142.27,84.61 L142.44,83.84 L142.62,83.08 L142.80,82.32 L142.98,81.57 L143.15,80.83 L143.33,80.10 L143.51,79.37 L143.69,78.65 L143.87,77.94 L144.04,77.24 L144.22,76.54 L144.40,75.86 L144.58,75.18 L144.75,74.51 L144.93,73.85 L145.11,73.20 L145.29,72.55 L145.46,71.92 L145.64,71.29 L145.82,70.67 L146.00,70.06 L146.18,69.46 L146.35,68.87 L146.53,68.28 L146.71,67.70 L146.89,67.12 L147.06,66.55 L147.24,65.98 L147.42,65.42 L147.60,64.87 L147.77,64.32 L147.95,63.79 L148.13,63.26 L148.31,62.75 L148.49,62.24 L148.66,61.75 L148.84,61.27 L149.02,60.80 L149.20,60.35 L149.37,59.91 L149.55,59.49 L149.73,59.08 L149.91,58.68 L150.08,58.27 L150.26,57.87 L150.44,57.48 L150.62,57.08 L150.80,56.69 L150.97,56.30 L151.15,55.92 L151.33,55.55 L151.51,55.18 L151.68,54.82 L151.86,54.46 L152.04,54.12 L152.22,53.78 L152.39,53.45 L152.57,53.14 L152.75,52.83 L152.93,52.54 L153.11,52.25 L153.28,51.98 L153.46,51.73 L153.64,51.48 L153.82,51.25 L153.99,51.04 L154.17,50.84 L154.35,50.66 L154.53,50.48 L154.70,50.31 L154.88,50.14 L155.06,49.96 L155.24,49.79 L155.41,49.62 L155.59,49.46 L155.77,49.29 L155.95,49.14 L156.13,48.98 L156.30,48.84 L156.48,48.70 L156.66,48.57 L156.84,48.44 L157.01,48.33 L157.19,48.22 L157.37,48.12 L157.55,48.04 L157.72,47.96 L157.90,47.90 L158.08,47.85 L158.26,47.81 L158.44,47.79 L158.61,47.78 L158.79,47.79 L158.97,47.80 L159.15,47.81 L159.32,47.83 L159.50,47.86 L159.68,47.89 L159.86,47.93 L160.03,47.97 L160.21,48.02 L160.39,48.07 L160.57,48.13 L160.75,48.19 L160.92,48.26 L161.10,48.33 L161.28,48.40 L161.46,48.47 L161.63,48.55 L161.81,48.63 L161.99,48.72 L162.17,48.81 L162.34,48.90 L162.52,48.99 L162.70,49.08 L162.88,49.18 L163.06,49.27 L163.23,49.37 L163.41,49.47 L163.59,49.57 L163.77,49.67 L163.94,49.77 L164.12,49.87 L164.30,49.97 L164.48,50.08 L164.65,50.19 L164.83,50.32 L165.01,50.45 L165.19,50.59 L165.36,50.74 L165.54,50.89 L165.72,51.05 L165.90,51.22 L166.08,51.40 L166.25,51.58 L166.43,51.76 L166.61,51.95 L166.79,52.15 L166.96,52.35 L167.14,52.55 L167.32,52.76 L167.50,52.97 L167.67,53.18 L167.85,53.40 L168.03,53.62 L168.21,53.84 L168.39,54.06 L168.56,54.28 L168.74,54.51 L168.92,54.73 L169.10,54.95 L169.27,55.18 L169.45,55.40 L169.63,55.64 L169.81,55.88 L169.98,56.13 L170.16,56.39 L170.34,56.65 L170.52,56.92 L170.70,57.19 L170.87,57.47 L171.05,57.75 L171.23,58.04 L171.41,58.33 L171.58,58.62 L171.76,58.91 L171.94,59.21 L172.12,59.50 L172.29,59.80 L172.47,60.10 L172.65,60.39 L172.83,60.69 L173.01,60.99 L173.18,61.28 L173.36,61.57 L173.54,61.86 L173.72,62.15 L173.89,62.43 L174.07,62.71 L174.25,62.98 L174.43,63.25 L174.60,63.52 L174.78,63.79 L174.96,64.06 L175.14,64.32 L175.32,64.59 L175.49,64.86 L175.67,65.12 L175.85,65.38 L176.03,65.65 L176.20,65.91 L176.38,66.17 L176.56,66.44 L176.74,66.70 L176.91,66.96 L177.09,67.22 L177.27,67.48 L177.45,67.75 L177.62,68.01 L177.80,68.27 L177.98,68.53 L178.16,68.79 L178.34,69.05 L178.51,69.32 L178.69,69.58 L178.87,69.84 L179.05,70.11 L179.22,70.37 L179.40,70.63 L179.58,70.90 L179.76,71.16 L179.93,71.42 L180.11,71.68 L180.29,71.95 L180.47,72.21 L180.65,72.47 L180.82,72.73 L181.00,73.00 L181.18,73.26 L181.36,73.52 L181.53,73.78 L181.71,74.04 L181.89,74.31 L182.07,74.57 L182.24,74.83 L182.42,75.10 L182.60,75.36 L182.78,75.63 L182.96,75.89 L183.13,76.16 L183.31,76.42 L183.49,76.69 L183.67,76.96 L183.84,77.23 L184.02,77.49 L184.20,77.77 L184.38,78.04 L184.55,78.32 L184.73,78.60 L184.91,78.88 L185.09,79.16 L185.27,79.44 L185.44,79.72 L185.62,80.01 L185.80,80.29 L185.98,80.57 L186.15,80.84 L186.33,81.12 L186.51,81.39 L186.69,81.65 L186.86,81.92 L187.04,82.17 L187.22,82.42 L187.40,82.67 L187.57,82.91 L187.75,83.16 L187.93,83.40 L188.11,83.63 L188.29,83.87 L188.46,84.10 L188.64,84.33 L188.82,84.56 L189.00,84.79 L189.17,85.02 L189.35,85.24 L189.53,85.46 L189.71,85.69 L189.88,85.91 L190.06,86.12 L190.24,86.34 L190.42,86.56 L190.60,86.77 L190.77,86.98 L190.95,87.20 L191.13,87.41 L191.31,87.62 L191.48,87.83 L191.66,88.04 L191.84,88.25 L192.02,88.45 L192.19,88.66 L192.37,88.86 L192.55,89.06 L192.73,89.27 L192.91,89.47 L193.08,89.67 L193.26,89.86 L193.44,90.06 L193.62,90.26 L193.79,90.45 L193.97,90.64 L194.15,90.84 L194.33,91.03 L194.50,91.22 L194.68,91.40 L194.86,91.59 L195.04,91.78 L195.22,91.96 L195.39,92.14 L195.57,92.33 L195.75,92.51 L195.93,92.70 L196.10,92.88 L196.28,93.07 L196.46,93.25 L196.64,93.43 L196.81,93.62 L196.99,93.80 L197.17,93.98 L197.35,94.16 L197.53,94.34 L197.70,94.51 L197.88,94.69 L198.06,94.86 L198.24,95.03 L198.41,95.19 L198.59,95.35 L198.77,95.51 L198.95,95.67 L199.12,95.82 L199.30,95.97 L199.48,96.11 L199.66,96.25 L199.83,96.39 L200.01,96.52 L200.19,96.66 L200.37,96.79 L200.55,96.93 L200.72,97.06 L200.90,97.19 L201.08,97.32 L201.26,97.44 L201.43,97.57 L201.61,97.69 L201.79,97.81 L201.97,97.93 L202.14,98.04 L202.32,98.15 L202.50,98.26 L202.68,98.36 L202.86,98.47 L203.03,98.56 L203.21,98.66 L203.39,98.75 L203.57,98.83 L203.74,98.91 L203.92,98.99 L204.10,99.06 L204.28,99.14 L204.45,99.21 L204.63,99.29 L204.81,99.36 L204.99,99.43 L205.17,99.50 L205.34,99.57 L205.52,99.65 L205.70,99.71 L205.88,99.78 L206.05,99.85 L206.23,99.92 L206.41,99.98 L206.59,100.04 L206.76,100.11 L206.94,100.17 L207.12,100.23 L207.30,100.28 L207.48,100.34 L207.65,100.39 L207.83,100.44 L208.01,100.49 L208.19,100.54 L208.36,100.59 L208.54,100.63 L208.72,100.67 L208.90,100.71 L209.07,100.74 L209.25,100.77 L209.43,100.80 L209.61,100.83 L209.78,100.85 L209.96,100.88 L210.14,100.89 L210.32,100.91 L210.50,100.92 L210.67,100.93 L210.85,100.95 L211.03,100.96 L211.21,100.97 L211.38,100.98 L211.56,100.99 L211.74,101.00 L211.92,101.01 L212.09,101.02 L212.27,101.04 L212.45,101.05 L212.63,101.06 L212.81,101.06 L212.98,101.07 L213.16,101.08 L213.34,101.09 L213.52,101.10 L213.69,101.11 L213.87,101.11 L214.05,101.12 L214.23,101.13 L214.40,101.13 L214.58,101.14 L214.76,101.15 L214.94,101.15 L215.12,101.16 L215.29,101.16 L215.47,101.16 L215.65,101.17 L215.83,101.17 L216.00,101.17 L216.18,101.18 L216.36,101.18 L216.54,101.18 L216.71,101.18 L216.89,101.18 L217.07,101.18 L217.25,101.18 L217.43,101.17 L217.60,101.16 L217.78,101.15 L217.96,101.14 L218.14,101.12 L218.31,101.10 L218.49,101.08 L218.67,101.06 L218.85,101.04 L219.02,101.01 L219.20,100.98 L219.38,100.95 L219.56,100.92 L219.74,100.88 L219.91,100.85 L220.09,100.81 L220.27,100.77 L220.45,100.73 L220.62,100.69 L220.80,100.65 L220.98,100.60 L221.16,100.56 L221.33,100.51 L221.51,100.47 L221.69,100.42 L221.87,100.38 L222.04,100.33 L222.22,100.28 L222.40,100.23 L222.58,100.19 L222.76,100.14 L222.93,100.09 L223.11,100.04 L223.29,99.99 L223.47,99.95 L223.64,99.90 L223.82,99.85 L224.00,99.81 L224.18,99.76 L224.35,99.72 L224.53,99.68 L224.71,99.63 L224.89,99.59 L225.07,99.54 L225.24,99.49 L225.42,99.45 L225.60,99.40 L225.78,99.35 L225.95,99.30 L226.13,99.25 L226.31,99.20 L226.49,99.14 L226.66,99.09 L226.84,99.04 L227.02,98.98 L227.20,98.93 L227.38,98.87 L227.55,98.81 L227.73,98.76 L227.91,98.70 L228.09,98.64 L228.26,98.59 L228.44,98.53 L228.62,98.47 L228.80,98.41 L228.97,98.35 L229.15,98.30 L229.33,98.24 L229.51,98.18 L229.69,98.12 L229.86,98.06 L230.04,98.00 L230.22,97.94 L230.40,97.89 L230.57,97.83 L230.75,97.77 L230.93,97.71 L231.11,97.65 L231.28,97.60 L231.46,97.54 L231.64,97.48 L231.82,97.43 L231.99,97.37 L232.17,97.32 L232.35,97.26 L232.53,97.20 L232.71,97.15 L232.88,97.09 L233.06,97.03 L233.24,96.97 L233.42,96.92 L233.59,96.86 L233.77,96.80 L233.95,96.74 L234.13,96.69 L234.30,96.63 L234.48,96.57 L234.66,96.51 L234.84,96.45 L235.02,96.40 L235.19,96.34 L235.37,96.28 L235.55,96.22 L235.73,96.16 L235.90,96.11 L236.08,96.05 L236.26,95.99 L236.44,95.93 L236.61,95.87 L236.79,95.81 L236.97,95.76 L237.15,95.70 L237.33,95.64 L237.50,95.58 L237.68,95.52 L237.86,95.47 L238.04,95.41 L238.21,95.35 L238.39,95.29 L238.57,95.24 L238.75,95.18 L238.92,95.12 L239.10,95.06 L239.28,95.01 L239.46,94.95 L239.64,94.89 L239.81,94.83 L239.99,94.78 L240.17,94.72 L240.35,94.67 L240.52,94.61 L240.70,94.55 L240.88,94.50 L241.06,94.44 L241.23,94.38 L241.41,94.33 L241.59,94.27 L241.77,94.21 L241.95,94.15 L242.12,94.10 L242.30,94.04 L242.48,93.98 L242.66,93.92 L242.83,93.87 L243.01,93.81 L243.19,93.75 L243.37,93.69 L243.54,93.64 L243.72,93.58 L243.90,93.52 L244.08,93.46 L244.25,93.41 L244.43,93.35 L244.61,93.29 L244.79,93.24 L244.97,93.18 L245.14,93.12 L245.32,93.07 L245.50,93.01 L245.68,92.96 L245.85,92.90 L246.03,92.85 L246.21,92.79 L246.39,92.74 L246.56,92.69 L246.74,92.63 L246.92,92.58 L247.10,92.53 L247.28,92.48 L247.45,92.42 L247.63,92.37 L247.81,92.32 L247.99,92.27 L248.16,92.22 L248.34,92.17 L248.52,92.13 L248.70,92.08 L248.87,92.03 L249.05,91.98 L249.23,91.94 L249.41,91.89 L249.59,91.84 L249.76,91.79 L249.94,91.75 L250.12,91.70 L250.30,91.65 L250.47,91.60 L250.65,91.55 L250.83,91.50 L251.01,91.46 L251.18,91.41 L251.36,91.36 L251.54,91.31 L251.72,91.26 L251.90,91.22 L252.07,91.17 L252.25,91.12 L252.43,91.07 L252.61,91.03 L252.78,90.98 L252.96,90.94 L253.14,90.89 L253.32,90.85 L253.49,90.80 L253.67,90.76 L253.85,90.72 L254.03,90.68 L254.20,90.64 L254.38,90.60 L254.56,90.56 L254.74,90.52 L254.92,90.48 L255.09,90.45 L255.27,90.41 L255.45,90.38 L255.63,90.35 L255.80,90.31 L255.98,90.28 L256.16,90.26 L256.34,90.23 L256.51,90.20 L256.69,90.18 L256.87,90.15 L257.05,90.13 L257.23,90.11 L257.40,90.09 L257.58,90.07 L257.76,90.05 L257.94,90.04 L258.11,90.02 L258.29,90.00 L258.47,89.98 L258.65,89.97 L258.82,89.95 L259.00,89.93 L259.18,89.91 L259.36,89.90 L259.54,89.88 L259.71,89.86 L259.89,89.85 L260.07,89.83 L260.25,89.81 L260.42,89.80 L260.60,89.78 L260.78,89.77 L260.96,89.75 L261.13,89.74 L261.31,89.72 L261.49,89.71 L261.67,89.69 L261.85,89.68 L262.02,89.66 L262.20,89.65 L262.38,89.64 L262.56,89.62 L262.73,89.61 L262.91,89.60 L263.09,89.59 L263.27,89.58 L263.44,89.56 L263.62,89.55 L263.80,89.54 L263.98,89.53 L264.16,89.52 L264.33,89.51 L264.51,89.50 L264.69,89.49 L264.87,89.49 L265.04,89.48 L265.22,89.47 L265.40,89.46 L265.58,89.46 L265.75,89.45 L265.93,89.44 L266.11,89.44 L266.29,89.43 L266.46,89.43 L266.64,89.42 L266.82,89.42 L267.00,89.42 L267.18,89.41 L267.35,89.41 L267.53,89.41 L267.71,89.41 L267.89,89.41 L268.06,89.41 L268.24,89.41 L268.42,89.41 L268.60,89.41 L268.77,89.41 L268.95,89.41 L269.13,89.41 L269.31,89.41 L269.49,89.41 L269.66,89.42 L269.84,89.42 L270.02,89.42 L270.20,89.43 L270.37,89.43 L270.55,89.43 L270.73,89.44 L270.91,89.44 L271.08,89.44 L271.26,89.45 L271.44,89.45 L271.62,89.46 L271.80,89.46 L271.97,89.47 L272.15,89.47 L272.33,89.48 L272.51,89.48 L272.68,89.49 L272.86,89.49 L273.04,89.50 L273.22,89.51 L273.39,89.51 L273.57,89.52 L273.75,89.53 L273.93,89.53 L274.11,89.54 L274.28,89.55 L274.46,89.55 L274.64,89.56 L274.82,89.57 L274.99,89.58 L275.17,89.58 L275.35,89.59 L275.53,89.60 L275.70,89.61 L275.88,89.62 L276.06,89.62 L276.24,89.63 L276.41,89.64 L276.59,89.65 L276.77,89.66 L276.95,89.67 L277.13,89.67 L277.30,89.68 L277.48,89.69 L277.66,89.70 L277.84,89.71 L278.01,89.72 L278.19,89.73 L278.37,89.74 L278.55,89.75 L278.72,89.75 L278.90,89.76 L279.08,89.77 L279.26,89.78 L279.44,89.79 L279.61,89.80 L279.79,89.81 L279.97,89.82 L280.15,89.83 L280.32,89.84 L280.50,89.85 L280.68,89.85 L280.86,89.86 L281.03,89.87 L281.21,89.88 L281.39,89.89 L281.57,89.90 L281.75,89.91 L281.92,89.92 L282.10,89.93 L282.28,89.93 L282.46,89.94 L282.63,89.95 L282.81,89.96 L282.99,89.97 L283.17,89.98 L283.34,89.99 L283.52,89.99 L283.70,90.00 L283.88,90.01 L284.06,90.02 L284.23,90.03 L284.41,90.03 L284.59,90.04 L284.77,90.05 L284.94,90.06 L285.12,90.06 L285.30,90.07 L285.48,90.08 L285.65,90.08 L285.83,90.09 L286.01,90.10 L286.19,90.10 L286.37,90.11 L286.54,90.12 L286.72,90.12 L286.90,90.13 L287.08,90.14 L287.25,90.14 L287.43,90.15 L287.61,90.16 L287.79,90.17 L287.96,90.17 L288.14,90.18 L288.32,90.19 L288.50,90.19 L288.67,90.20 L288.85,90.21 L289.03,90.22 L289.21,90.22 L289.39,90.23 L289.56,90.24 L289.74,90.24 L289.92,90.25 L290.10,90.26 L290.27,90.27 L290.45,90.27 L290.63,90.28 L290.81,90.29 L290.98,90.30 L291.16,90.30 L291.34,90.31 L291.52,90.32 L291.70,90.32 L291.87,90.33 L292.05,90.34 L292.23,90.35 L292.41,90.35 L292.58,90.36 L292.76,90.37 L292.94,90.38 L293.12,90.38 L293.29,90.39 L293.47,90.40 L293.65,90.41 L293.83,90.41 L294.01,90.42 L294.18,90.43 L294.36,90.44 L294.54,90.44 L294.72,90.45 L294.89,90.46 L295.07,90.47 L295.25,90.47 L295.43,90.48 L295.60,90.49 L295.78,90.50 L295.96,90.50 L296.14,90.51 L296.32,90.52 L296.49,90.53 L296.67,90.53 L296.85,90.54 L297.03,90.55 L297.20,90.55 L297.38,90.56 L297.56,90.57 L297.74,90.58 L297.91,90.58 L298.09,90.59 L298.27,90.60 L298.45,90.61 L298.62,90.61 L298.80,90.62 L298.98,90.63 L299.16,90.63 L299.34,90.64 L299.51,90.65 L299.69,90.66 L299.87,90.66 L300.05,90.67 L300.22,90.68 L300.40,90.68 L300.58,90.69 L300.76,90.70 L300.93,90.70 L301.11,90.71 L301.29,90.72 L301.47,90.72 L301.65,90.73 L301.82,90.74 L302.00,90.75 L302.18,90.75 L302.36,90.76 L302.53,90.76 L302.71,90.77 L302.89,90.78 L303.07,90.78 L303.24,90.79 L303.42,90.80 L303.60,90.80 L303.78,90.81 L303.96,90.82 L304.13,90.82 L304.31,90.83 L304.49,90.83 L304.67,90.84 L304.84,90.85 L305.02,90.85 L305.20,90.86 L305.38,90.86 L305.55,90.87 L305.73,90.88 L305.91,90.88 L306.09,90.89 L306.27,90.89 L306.44,90.90 L306.62,90.90 L306.80,90.91 L306.98,90.91 L307.15,90.92 L307.33,90.93 L307.51,90.93 L307.69,90.94 L307.86,90.94 L308.04,90.95 L308.22,90.95 L308.40,90.96 L308.58,90.96 L308.75,90.97 L308.93,90.97 L309.11,90.97 L309.29,90.98 L309.46,90.98 L309.64,90.99 L309.82,90.99 L310.00,91.00 L310.17,91.00 L310.35,91.01 L310.53,91.01 L310.71,91.01 L310.88,91.02 L311.06,91.02 L311.24,91.02 L311.42,91.03 L311.60,91.03 L311.77,91.04 L311.95,91.04 L312.13,91.04 L312.31,91.05 L312.48,91.05 L312.66,91.05 L312.84,91.06 L313.02,91.06 L313.19,91.06 L313.37,91.07 L313.55,91.07 L313.73,91.07 L313.91,91.07 L314.08,91.08 L314.26,91.08 L314.44,91.08 L314.62,91.09 L314.79,91.09 L314.97,91.09 L315.15,91.10 L315.33,91.10 L315.50,91.10 L315.68,91.11 L315.86,91.11 L316.04,91.11 L316.22,91.12 L316.39,91.12 L316.57,91.12 L316.75,91.12 L316.93,91.13 L317.10,91.13 L317.28,91.13 L317.46,91.14 L317.64,91.14 L317.81,91.14 L317.99,91.15 L318.17,91.15 L318.35,91.15 L318.53,91.16 L318.70,91.16 L318.88,91.16 L319.06,91.16 L319.24,91.17 L319.41,91.17 L319.59,91.17 L319.77,91.18 L319.95,91.18 L320.12,91.18 L320.30,91.19 L320.48,91.19 L320.66,91.19 L320.83,91.19 L321.01,91.20 L321.19,91.20 L321.37,91.20 L321.55,91.21 L321.72,91.21 L321.90,91.21 L322.08,91.21 L322.26,91.22 L322.43,91.22 L322.61,91.22 L322.79,91.23 L322.97,91.23 L323.14,91.23 L323.32,91.23 L323.50,91.24 L323.68,91.24 L323.86,91.24 L324.03,91.25 L324.21,91.25 L324.39,91.25 L324.57,91.25 L324.74,91.26 L324.92,91.26 L325.10,91.26 L325.28,91.26 L325.45,91.27 L325.63,91.27 L325.81,91.27 L325.99,91.28 L326.17,91.28 L326.34,91.28 L326.52,91.28 L326.70,91.29 L326.88,91.29 L327.05,91.29 L327.23,91.29 L327.41,91.30 L327.59,91.30 L327.76,91.30 L327.94,91.30 L328.12,91.31 L328.30,91.31 L328.48,91.31 L328.65,91.31 L328.83,91.32 L329.01,91.32 L329.19,91.32 L329.36,91.32 L329.54,91.33 L329.72,91.33 L329.90,91.33 L330.07,91.33 L330.25,91.33 L330.43,91.34 L330.61,91.34 L330.79,91.34 L330.96,91.34 L331.14,91.35 L331.32,91.35 L331.50,91.35 L331.67,91.35 L331.85,91.35 L332.03,91.36 L332.21,91.36 L332.38,91.36 L332.56,91.36 L332.74,91.36 L332.92,91.37 L333.09,91.37 L333.27,91.37 L333.45,91.37 L333.63,91.37 L333.81,91.38 L333.98,91.38 L334.16,91.38 L334.34,91.38 L334.52,91.38 L334.69,91.39 L334.87,91.39 L335.05,91.39 L335.23,91.39 L335.40,91.39 L335.58,91.40 L335.76,91.40 L335.94,91.40 L336.12,91.40 L336.29,91.40 L336.47,91.40 L336.65,91.41 L336.83,91.41 L337.00,91.41 L337.18,91.41 L337.36,91.41 L337.54,91.41 L337.71,91.41 L337.89,91.42 L338.07,91.42 L338.25,91.42 L338.43,91.42 L338.60,91.42 L338.78,91.42 L338.96,91.42 L339.14,91.43 L339.31,91.43 L339.49,91.43 L339.67,91.43 L339.85,91.43 L340.02,91.43 L340.20,91.43 L340.38,91.43 L340.56,91.44 L340.74,91.44 L340.91,91.44 L341.09,91.44 L341.27,91.44 L341.45,91.44 L341.62,91.44 L341.80,91.44 L341.98,91.44 L342.16,91.44 L342.33,91.45 L342.51,91.45 L342.69,91.45 L342.87,91.45 L343.04,91.45 L343.22,91.45 L343.40,91.45 L343.58,91.45 L343.76,91.45 L343.93,91.45 L344.11,91.45 L344.29,91.45 L344.47,91.45 L344.64,91.45 L344.82,91.46 L345.00,91.46 L345.18,91.46 L345.35,91.46 L345.53,91.46 L345.71,91.46 L345.89,91.46 L346.07,91.46 L346.24,91.46 L346.42,91.46 L346.60,91.46 L346.78,91.46 L346.95,91.46 L347.13,91.46 L347.31,91.46 L347.49,91.46 L347.66,91.46 L347.84,91.46 L348.02,91.46 L348.20,91.46 L348.38,91.46 L348.55,91.46 L348.73,91.46 L348.91,91.46 L349.09,91.46 L349.26,91.46 L349.44,91.46 L349.62,91.46 L349.80,91.46 L349.97,91.46 L350.15,91.46 L350.33,91.46 L350.51,91.46 L350.69,91.46 L350.86,91.46 L351.04,91.46 L351.22,91.46 L351.40,91.46 L351.57,91.46 L351.75,91.46 L351.93,91.46 L352.11,91.46 L352.28,91.46 L352.46,91.46 L352.64,91.46 L352.82,91.46 L353.00,91.46 L353.17,91.46 L353.35,91.46 L353.53,91.46 L353.71,91.46 L353.88,91.46 L354.06,91.46 L354.24,91.46 L354.42,91.46 L354.59,91.46 L354.77,91.46 L354.95,91.46 L355.13,91.46 L355.30,91.46 L355.48,91.46 L355.66,91.46 L355.84,91.46 L356.02,91.46 L356.19,91.46 L356.37,91.46 L356.55,91.46 L356.73,91.46 L356.90,91.46 L357.08,91.46 L357.26,91.46 L357.44,91.46 L357.61,91.46 L357.79,91.46 L357.97,91.46 L358.15,91.46 L358.33,91.46 L358.50,91.46 L358.68,91.46 L358.86,91.46 L359.04,91.46 L359.21,91.46 L359.39,91.46 L359.57,91.46 L359.75,91.46 L359.92,91.46 L360.10,91.46 L360.28,91.46 L360.46,91.46 L360.64,91.46 L360.81,91.46 L360.99,91.46 L361.17,91.46 L361.35,91.46 L361.52,91.46 L361.70,91.46 L361.88,91.46 L362.06,91.46 L362.23,91.46 L362.41,91.46 L362.59,91.46 L362.77,91.46 L362.95,91.46 L363.12,91.46 L363.30,91.46 L363.48,91.46 L363.66,91.46 L363.83,91.46 L364.01,91.46 L364.19,91.46 L364.37,91.46 L364.54,91.46 L364.72,91.46 L364.90,91.46 L365.08,91.46 L365.25,91.46 L365.43,91.46 L365.61,91.46 L365.79,91.46 L365.97,91.46 L366.14,91.46 L366.32,91.46 L366.50,91.46 L366.68,91.46 L366.85,91.46 L367.03,91.46 L367.21,91.46 L367.39,91.46 L367.56,91.46 L367.74,91.46 L367.92,91.46 L368.10,91.46 L368.28,91.46 L368.45,91.46 L368.63,91.46 L368.81,91.46 L368.99,91.46 L369.16,91.46 L369.34,91.46 L369.52,91.46 L369.70,91.46 L369.87,91.46 L370.05,91.46 L370.23,91.46 L370.41,91.46 L370.59,91.46 L370.76,91.46 L370.94,91.46 L371.12,91.46 L371.30,91.46 L371.47,91.46 L371.65,91.46 L371.83,91.46 L372.01,91.46 L372.18,91.46 L372.36,91.46 L372.54,91.46 L372.72,91.46 L372.90,91.46 L373.07,91.46 L373.25,91.46 L373.43,91.46 L373.61,91.46 L373.78,91.46 L373.96,91.46 L374.14,91.46 L374.32,91.46 L374.49,91.46 L374.67,91.46 L374.85,91.46 L375.03,91.46 L375.21,91.46 L375.38,91.46 L375.56,91.46 L375.74,91.46 L375.92,91.46 L376.09,91.46 L376.27,91.46 L376.45,91.46 L376.63,91.46 L376.80,91.46 L376.98,91.46 L377.16,91.46 L377.34,91.46 L377.51,91.46 L377.69,91.46 L377.87,91.46 L378.05,91.46 L378.23,91.46 L378.40,91.46 L378.58,91.46 L378.76,91.46 L378.94,91.46 L379.11,91.46 L379.29,91.46 L379.47,91.46 L379.65,91.46 L379.82,91.46 L380.00,91.46 L380.18,91.46 L380.36,91.46 L380.54,91.46 L380.71,91.46 L380.89,91.46 L381.07,91.46 L381.25,91.46 L381.42,91.46 L381.60,91.46 L381.78,91.46 L381.96,91.46 L382.13,91.46 L382.31,91.46 L382.49,91.46 L382.67,91.46 L382.85,91.46 L383.02,91.46 L383.20,91.46 L383.38,91.46 L383.56,91.46 L383.73,91.46 L383.91,91.46 L384.09,91.46 L384.27,91.46 L384.44,91.46 L384.62,91.46 L384.80,91.46 L384.98,91.46 L385.16,91.46 L385.33,91.46 L385.51,91.46 L385.69,91.46 L385.87,91.46 L386.04,91.46 L386.22,91.46 L386.40,91.46 L386.58,91.46 L386.75,91.46 L386.93,91.46 L387.11,91.46 L387.29,91.46 L387.46,91.46 L387.64,91.46 L387.82,91.46 L388.00,91.46 L388.18,91.46 L388.35,91.46 L388.53,91.46 L388.71,91.46 L388.89,91.46 L389.06,91.46 L389.24,91.46 L389.42,91.46 L389.60,91.46 L389.77,91.46 L389.95,91.46 L390.13,91.46 L390.31,91.46 L390.49,91.46 L390.66,91.46 L390.84,91.46 L391.02,91.46 L391.20,91.46 L391.37,91.46 L391.55,91.46 L391.73,91.46 L391.91,91.46 L392.08,91.46 L392.26,91.46 L392.44,91.46 L392.62,91.46 L392.80,91.46 L392.97,91.46 L393.15,91.46 L393.33,91.46 L393.51,91.46 L393.68,91.46 L393.86,91.46 L394.04,91.46 L394.22,91.46 L394.39,91.46 L394.57,91.46 L394.75,91.46 L394.93,91.46 L395.11,91.46 L395.28,91.46 L395.46,91.46 L395.64,91.46 L395.82,91.46 L395.99,91.46 L396.17,91.46 L396.35,91.46 L396.53,91.46 L396.70,91.46 L396.88,91.46 L397.06,91.46 L397.24,91.46 L397.42,91.46 L397.59,91.46 L397.77,91.46 L397.95,91.46 L398.13,91.46 L398.30,91.46 L398.48,91.46 L398.66,91.46 L398.84,91.46 L399.01,91.46 L399.19,91.46 L399.37,91.46 L399.55,91.46 L399.72,91.46 L399.90,91.46 L400.08,91.46 L400.26,91.46 L400.44,91.46 L400.61,91.46 L400.79,91.46 L400.97,91.46 L401.15,91.46 L401.32,91.46 L401.50,91.46 L401.68,91.46 L401.86,91.46 L402.03,91.46 L402.21,91.46 L402.39,91.46 L402.57,91.46 L402.75,91.46 L402.92,91.46 L403.10,91.46 L403.28,91.46 L403.46,91.46 L403.63,91.46 L403.81,91.46 L403.99,91.46 L404.17,91.46 L404.34,91.46 L404.52,91.46 L404.70,91.46 L404.88,91.46 L405.06,91.46 L405.23,91.46 L405.41,91.46 L405.59,91.46 L405.77,91.46 L405.94,91.46 L406.12,91.46 L406.30,91.46 L406.48,91.46 L406.65,91.46 L406.83,91.46 L407.01,91.46 L407.19,91.46 L407.37,91.46 L407.54,91.46 L407.72,91.46 L407.90,91.46 L408.08,91.46 L408.25,91.46 L408.43,91.46 L408.61,91.46 L408.79,91.46 L408.96,91.46 L409.14,91.46 L409.32,91.46 L409.50,91.46 L409.67,91.46 L409.85,91.46 L410.03,91.46 L410.21,91.46 L410.39,91.46 L410.56,91.46 L410.74,91.46 L410.92,91.46 L411.10,91.46 L411.27,91.46 L411.45,91.46 L411.63,91.46 L411.81,91.46 L411.98,91.46 L412.16,91.46 L412.34,91.46 L412.52,91.46 L412.70,91.46 L412.87,91.46 L413.05,91.46 L413.23,91.46 L413.41,91.46 L413.58,91.46 L413.76,91.46 L413.94,91.46 L414.12,91.46 L414.29,91.46 L414.47,91.46 L414.65,91.46 L414.83,91.46 L415.01,91.46 L415.18,91.46 L415.36,91.46 L415.54,91.46 L415.72,91.46 L415.89,91.46 L416.07,91.46 L416.25,91.46 L416.43,91.46 L416.60,91.46 L416.78,91.46 L416.96,91.46 L417.14,91.46 L417.32,91.46 L417.49,91.46 L417.67,91.46 L417.85,91.46 L418.03,91.46 L418.20,91.46 L418.38,91.46 L418.56,91.46 L418.74,91.46 L418.91,91.46 L419.09,91.46 L419.27,91.46 L419.45,91.46 L419.63,91.46 L419.80,91.46 L419.98,91.46 L420.16,91.46 L420.34,91.46 L420.51,91.46 L420.69,91.46 L420.87,91.46 L421.05,91.46 L421.22,91.46 L421.40,91.46 L421.58,91.46 L421.76,91.46 L421.93,91.46 L422.11,91.46 L422.29,91.46 L422.47,91.46 L422.65,91.46 L422.82,91.46 L423.00,91.46 L423.18,91.46 L423.36,91.46 L423.53,91.46 L423.71,91.46 L423.89,91.46 L424.07,91.46 L424.24,91.46 L424.42,91.46 L424.60,91.46 L424.78,91.46 L424.96,91.46 L425.13,91.46 L425.31,91.46 L425.49,91.46 L425.67,91.46 L425.84,91.46 L426.02,91.46 L426.20,91.46 L426.38,91.46 L426.55,91.46 L426.73,91.46 L426.91,91.46 L427.09,91.46 L427.27,91.46 L427.44,91.46 L427.62,91.46 L427.80,91.46 L427.98,91.46 L428.15,91.46 L428.33,91.46 L428.51,91.46 L428.69,91.46 L428.86,91.46 L429.04,91.46 L429.22,91.46 L429.40,91.46 L429.58,91.46 L429.75,91.46 L429.93,91.46 L430.11,91.46 L430.29,91.46 L430.46,91.46 L430.64,91.46 L430.82,91.46 L431.00,91.46 L431.17,91.46 L431.35,91.46 L431.53,91.46 L431.71,91.46 L431.88,91.46 L432.06,91.46 L432.24,91.46 L432.42,91.46 L432.60,91.46 L432.77,91.46 L432.95,91.46 L433.13,91.46 L433.31,91.46 L433.48,91.46 L433.66,91.46 L433.84,91.46 L434.02,91.46 L434.19,91.46 L434.37,91.46 L434.55,91.46 L434.73,91.46 L434.91,91.46 L435.08,91.46 L435.26,91.46 L435.44,91.46 L435.62,91.46 L435.79,91.46 L435.97,91.46 L436.15,91.46 L436.33,91.46 L436.50,91.46 L436.68,91.46 L436.86,91.46 L437.04,91.46 L437.22,91.46 L437.39,91.46 L437.57,91.46 L437.75,91.46 L437.93,91.46 L438.10,91.46 L438.28,91.46 L438.46,91.46 L438.64,91.46 L438.81,91.46 L438.99,91.46 L439.17,91.46 L439.35,91.46 L439.53,91.46 L439.70,91.46 L439.88,91.46 L440.06,91.46 L440.24,91.46 L440.41,91.46 L440.59,91.46 L440.77,91.46 L440.95,91.46 L441.12,91.46 L441.30,91.46 L441.48,91.46 L441.66,91.46 L441.84,91.46 L442.01,91.46 L442.19,91.46 L442.37,91.46 L442.55,91.46 L442.72,91.46 L442.90,91.46 L443.08,91.46 L443.26,91.46 L443.43,91.46 L443.61,91.46 L443.79,91.46 L443.97,91.46 L444.14,91.46 L444.32,91.46 L444.50,91.46 L444.68,91.46 L444.86,91.46 L445.03,91.46 L445.21,91.46 L445.39,91.46 L445.57,91.46 L445.74,91.46 L445.92,91.46 L446.10,91.46 L446.28,91.46 L446.45,91.46 L446.63,91.46 L446.81,91.46 L446.99,91.46 L447.17,91.46 L447.34,91.46 L447.52,91.46 L447.70,91.46 L447.88,91.46 L448.05,91.46 L448.23,91.46 L448.41,91.46 L448.59,91.46 L448.76,91.46 L448.94,91.46 L449.12,91.46 L449.30,91.46 L449.48,91.46 L449.65,91.46 L449.83,91.46 L450.01,91.46 L450.19,91.46 L450.36,91.46 L450.54,91.46 L450.72,91.46 L450.90,91.46 L451.07,91.46 L451.25,91.46 L451.43,91.46 L451.61,91.46 L451.79,91.46 L451.96,91.46 L452.14,91.46 L452.32,91.46 L452.50,91.46 L452.67,91.46 L452.85,91.46 L453.03,91.46 L453.21,91.46 L453.38,91.46 L453.56,91.46 L453.74,91.46 L453.92,91.46 L454.09,91.46 L454.27,91.46 L454.45,91.46 L454.63,91.46 L454.81,91.46 L454.98,91.46 L455.16,91.46 L455.34,91.46 L455.52,91.46 L455.69,91.46 L455.87,91.46 L456.05,91.46 L456.23,91.46 L456.40,91.46 L456.58,91.46 L456.76,91.46 L456.94,91.46 L457.12,91.46 L457.29,91.46 L457.47,91.46 L457.65,91.46 L457.83,91.46 L458.00,91.46 L458.18,91.46 L458.36,91.46 L458.54,91.46 L458.71,91.46 L458.89,91.46 L459.07,91.46 L459.25,91.46 L459.43,91.46 L459.60,91.46 L459.78,91.46 L459.96,91.46 L460.14,91.46 L460.31,91.46 L460.49,91.46 L460.67,91.46 L460.85,91.46 L461.02,91.46 L461.20,91.46 L461.38,91.46 L461.56,91.46 L461.74,91.46 L461.91,91.46 L462.09,91.46 L462.27,91.46 L462.45,91.46 L462.62,91.46 L462.80,91.46 L462.98,91.46 L463.16,91.46 L463.33,91.46 L463.51,91.46 L463.69,91.46 L463.87,91.46 L464.05,91.46 L464.22,91.46 L464.40,91.46 L464.58,91.46 L464.76,91.46 L464.93,91.46 L465.11,91.46 L465.29,91.46 L465.47,91.46 L465.64,91.46 L465.82,91.46 L466.00,91.46 L466.18,91.46 L466.35,91.46 L466.53,91.46 L466.71,91.46 L466.89,91.46 L467.07,91.46 L467.24,91.46 L467.42,91.46 L467.60,91.46 L467.78,91.46 L467.95,91.46 L468.13,91.46 L468.31,91.46 L468.49,91.46 L468.66,91.46 L468.84,91.46 L469.02,91.46 L469.20,91.46 L469.38,91.46 L469.55,91.46 L469.73,91.46 L469.91,91.46 L470.09,91.46 L470.26,91.46 L470.44,91.46 L470.62,91.46 L470.80,91.46 L470.97,91.46 L471.15,91.46 L471.33,91.46 L471.51,91.46 L471.69,91.46 L471.86,91.46 L472.04,91.46 L472.22,91.46 L472.40,91.46 L472.57,91.46 L472.75,91.46 L472.93,91.46 L473.11,91.46 L473.28,91.46 L473.46,91.46 L473.64,91.46 L473.82,91.46 L474.00,91.46 L474.17,91.46 L474.35,91.46 L474.53,91.46 L474.71,91.46 L474.88,91.46 L475.06,91.46 L475.24,91.46 L475.42,91.46 L475.59,91.46 L475.77,91.46 L475.95,91.46 L476.13,91.46 L476.30,91.46 L476.48,91.46 L476.66,91.46 L476.84,91.46 L477.02,91.46 L477.19,91.46 L477.37,91.46 L477.55,91.46 L477.73,91.46 L477.90,91.46 L478.08,91.46 L478.26,91.46 L478.44,91.46 L478.61,91.46 L478.79,91.46 L478.97,91.46 L479.15,91.46 L479.33,91.46 L479.50,91.46 L479.68,91.46 L479.86,91.46 L480.04,91.46 L480.21,91.46 L480.39,91.46 L480.57,91.46 L480.75,91.46 L480.92,91.46 L481.10,91.46 L481.28,91.46 L481.46,91.46 L481.64,91.46 L481.81,91.46 L481.99,91.46 L482.17,91.46 L482.35,91.46 L482.52,91.46 L482.70,91.46 L482.88,91.46 L483.06,91.46 L483.23,91.46 L483.41,91.46 L483.59,91.46 L483.77,91.46 L483.95,91.46 L484.12,91.46 L484.30,91.46 L484.48,91.46 L484.66,91.46 L484.83,91.46 L485.01,91.46 L485.19,91.46 L485.37,91.46 L485.54,91.46 L485.72,91.46 L485.90,91.46 L486.08,91.46 L486.26,91.46 L486.43,91.46 L486.61,91.46 L486.79,91.46 L486.97,91.46 L487.14,91.46 L487.32,91.46 L487.50,91.46 L487.68,91.46 L487.85,91.46 L488.03,91.46 L488.21,91.46 L488.39,91.46 L488.56,91.46 L488.74,91.46 L488.92,91.46 L489.10,91.46 L489.28,91.46 L489.45,91.46 L489.63,91.46 L489.81,91.46 L489.99,91.46 L490.16,91.46 L490.34,91.46 L490.52,91.46 L490.70,91.46 L490.87,91.46 L491.05,91.46 L491.23,91.46 L491.41,91.46 L491.59,91.46 L491.76,91.46 L491.94,91.46 L492.12,91.46 L492.30,91.46 L492.47,91.46 L492.65,91.46 L492.83,91.46 L493.01,91.46 L493.18,91.46 L493.36,91.46 L493.54,91.46 L493.72,91.46 L493.90,91.46 L494.07,91.46 L494.25,91.46 L494.43,91.46 L494.61,91.46 L494.78,91.46 L494.96,91.46 L495.14,91.46 L495.32,91.46 L495.49,91.46 L495.67,91.46 L495.85,91.46 L496.03,91.46 L496.21,91.46 L496.38,91.46 L496.56,91.46 L496.74,91.46 L496.92,91.46 L497.09,91.46 L497.27,91.46 L497.45,91.46 L497.63,91.46 L497.80,91.46 L497.98,91.46 L498.16,91.46 L498.34,91.46 L498.51,91.46 L498.69,91.46 L498.87,91.46 L499.05,91.46 L499.23,91.46 L499.40,91.46 L499.58,91.46 L499.76,91.46 L499.94,91.46 L500.11,91.46 L500.29,91.46 L500.47,91.46 L500.65,91.46 L500.82,91.46 L501.00,91.46 L501.18,91.46 L501.36,91.46 L501.54,91.46 L501.71,91.46 L501.89,91.46 L502.07,91.46 L502.25,91.46 L502.42,91.46 L502.60,91.46 L502.78,91.46 L502.96,91.46 L503.13,91.46 L503.31,91.46 L503.49,91.46 L503.67,91.46 L503.85,91.46 L504.02,91.46 L504.20,91.46 L504.38,91.46 L504.56,91.46 L504.73,91.46 L504.91,91.46 L505.09,91.46 L505.27,91.46 L505.44,91.46 L505.62,91.46 L505.80,91.46 L505.98,91.46 L506.16,91.46 L506.33,91.46 L506.51,91.46 L506.69,91.46 L506.87,91.46 L507.04,91.46 L507.22,91.46 L507.40,91.46 L507.58,91.46 L507.75,91.46 L507.93,91.46 L508.11,91.46 L508.29,91.46 L508.47,91.46 L508.64,91.46 L508.82,91.46 L509.00,91.46 L509.18,91.46 L509.35,91.46 L509.53,91.46 L509.71,91.46 L509.89,91.46 L510.06,91.46 L510.24,91.46 L510.42,91.46 L510.60,91.46 L510.77,91.46 L510.95,91.46 L511.13,91.46 L511.31,91.46 L511.49,91.46 L511.66,91.46 L511.84,91.46 L512.02,91.46 L512.20,91.46 L512.37,91.46 L512.55,91.46 L512.73,91.46 L512.91,91.46 L513.08,91.46 L513.26,91.46 L513.44,91.46 L513.62,91.46 L513.80,91.46 L513.97,91.46 L514.15,91.46 L514.33,91.46 L514.51,91.46 L514.68,91.46 L514.86,91.46 L515.04,91.46 L515.22,91.46 L515.39,91.46 L515.57,91.46 L515.75,91.46 L515.93,91.46 L516.11,91.46 L516.28,91.46 L516.46,91.46 L516.64,91.46 L516.82,91.46 L516.99,91.46 L517.17,91.46 L517.35,91.46 L517.53,91.46 L517.70,91.46 L517.88,91.46 L518.06,91.46 L518.24,91.46 L518.42,91.46 L518.59,91.46 L518.77,91.46 L518.95,91.46 L519.13,91.46 L519.30,91.46 L519.48,91.46 L519.66,91.46 L519.84,91.46 L520.01,91.46 L520.19,91.46 L520.37,91.46 L520.55,91.46 L520.72,91.46 L520.90,91.46 L521.08,91.46 L521.26,91.46 L521.44,91.46 L521.61,91.46 L521.79,91.46 L521.97,91.46 L522.15,91.46 L522.32,91.46 L522.50,91.46 L522.68,91.46 L522.86,91.46 L523.03,91.46 L523.21,91.46 L523.39,91.46 L523.57,91.46 L523.75,91.46 L523.92,91.46 L524.10,91.46 L524.28,91.46 L524.46,91.46 L524.63,91.46 L524.81,91.46 L524.99,91.46 L525.17,91.46 L525.34,91.46 L525.52,91.46 L525.70,91.46" stroke-dasharray="12,4.5,2,4.5"/>
<path d="M81.50,228.38 L99.27,228.38 L99.52,236.91 L99.77,257.03 L100.02,283.83 L100.27,310.63 L100.53,330.75 L100.78,339.29 L101.09,337.78 L101.39,334.43 L101.70,329.40 L102.01,322.95 L102.32,315.42 L102.62,307.22 L102.93,298.79 L103.24,290.58 L103.55,283.06 L103.85,276.60 L104.16,271.57 L104.47,268.22 L104.78,266.72 L105.08,267.27 L105.38,268.38 L105.68,270.05 L105.98,272.23 L106.29,274.88 L106.59,277.93 L106.89,281.32 L107.19,284.98 L107.49,288.81 L107.80,292.73 L108.10,296.66 L108.40,300.49 L108.70,304.14 L109.00,307.53 L109.31,310.59 L109.61,313.24 L109.91,315.41 L110.21,317.08 L110.52,318.20 L110.82,318.75 L111.12,317.37 L111.43,314.65 L111.73,310.62 L112.04,305.35 L112.34,298.93 L112.65,291.45 L112.95,283.05 L113.26,273.87 L113.56,264.07 L113.87,253.81 L114.17,243.28 L114.48,232.65 L114.78,222.12 L115.09,211.86 L115.39,202.06 L115.70,192.88 L116.00,184.48 L116.31,177.00 L116.61,170.58 L116.92,165.31 L117.23,161.28 L117.53,158.56 L117.84,157.18 L118.14,158.49 L118.45,161.55 L118.75,166.02 L119.06,171.43 L119.37,177.16 L119.67,182.57 L119.98,187.05 L120.28,190.10 L120.59,191.41 L120.89,190.10 L121.20,187.45 L121.50,183.52 L121.81,178.36 L122.11,172.10 L122.42,164.84 L122.72,156.75 L123.03,147.98 L123.33,138.72 L123.64,129.15 L123.94,119.49 L124.24,109.93 L124.55,100.66 L124.85,91.89 L125.16,83.80 L125.46,76.54 L125.77,70.28 L126.07,65.13 L126.38,61.19 L126.68,58.54 L126.99,57.23 L127.30,58.66 L127.62,61.87 L127.94,66.68 L128.26,72.79 L128.58,79.83 L128.90,87.35 L129.21,94.87 L129.53,101.91 L129.85,108.03 L130.17,112.84 L130.49,116.05 L130.81,117.47 L131.11,115.97 L131.42,112.62 L131.73,107.59 L132.04,101.14 L132.34,93.61 L132.65,85.41 L132.96,76.98 L133.27,68.77 L133.57,61.25 L133.88,54.79 L134.19,49.76 L134.50,46.41 L134.80,44.91 L135.10,45.89 L135.40,47.86 L135.69,50.79 L135.99,54.63 L136.28,59.29 L136.58,64.70 L136.88,70.73 L137.17,77.26 L137.47,84.16 L137.77,91.28 L138.06,98.48 L138.36,105.61 L138.65,112.51 L138.95,119.04 L139.25,125.07 L139.54,130.47 L139.84,135.14 L140.13,138.98 L140.43,141.91 L140.73,143.88 L141.02,144.86 L141.36,142.87 L141.69,138.20 L142.02,131.48 L142.36,123.64 L142.69,115.80 L143.02,109.07 L143.35,104.40 L143.69,102.41 L143.98,103.47 L144.28,105.59 L144.58,108.76 L144.87,112.89 L145.17,117.92 L145.46,123.75 L145.76,130.25 L146.06,137.29 L146.35,144.73 L146.65,152.41 L146.95,160.17 L147.24,167.85 L147.54,175.29 L147.83,182.33 L148.13,188.83 L148.43,194.66 L148.72,199.69 L149.02,203.83 L149.31,206.99 L149.61,209.11 L149.91,210.17 L150.22,209.12 L150.54,206.81 L150.86,203.34 L151.18,198.86 L151.49,193.59 L151.81,187.75 L152.13,181.62 L152.45,175.50 L152.76,169.66 L153.08,164.38 L153.40,159.90 L153.71,156.43 L154.03,154.13 L154.35,153.07 L154.65,154.21 L154.96,156.59 L155.26,160.18 L155.56,164.85 L155.86,170.47 L156.17,176.85 L156.47,183.81 L156.77,191.12 L157.08,198.55 L157.38,205.86 L157.68,212.82 L157.99,219.20 L158.29,224.82 L158.59,229.49 L158.90,233.07 L159.20,235.46 L159.50,236.60 L159.80,235.37 L160.10,232.79 L160.40,228.91 L160.69,223.86 L160.99,217.78 L161.29,210.87 L161.59,203.34 L161.88,195.43 L162.18,187.39 L162.48,179.49 L162.78,171.96 L163.08,165.04 L163.37,158.97 L163.67,153.91 L163.97,150.04 L164.27,147.45 L164.57,146.23 L164.86,147.30 L165.16,149.71 L165.45,153.31 L165.75,157.90 L166.05,163.18 L166.34,168.82 L166.64,174.46 L166.93,179.74 L167.23,184.33 L167.53,187.93 L167.82,190.34 L168.12,191.41 L168.43,190.39 L168.74,188.32 L169.05,185.25 L169.35,181.23 L169.66,176.34 L169.97,170.67 L170.28,164.35 L170.59,157.51 L170.90,150.28 L171.21,142.81 L171.52,135.27 L171.82,127.80 L172.13,120.57 L172.44,113.73 L172.75,107.41 L173.06,101.74 L173.37,96.85 L173.68,92.83 L173.99,89.76 L174.30,87.69 L174.60,86.67 L174.90,87.31 L175.20,88.72 L175.50,90.84 L175.80,93.58 L176.10,96.81 L176.39,100.38 L176.69,104.13 L176.99,107.87 L177.29,111.44 L177.59,114.67 L177.89,117.41 L178.18,119.53 L178.48,120.94 L178.78,121.58 L179.08,120.64 L179.38,118.66 L179.67,115.68 L179.97,111.80 L180.27,107.13 L180.57,101.82 L180.86,96.03 L181.16,89.96 L181.46,83.79 L181.76,77.71 L182.06,71.93 L182.35,66.62 L182.65,61.95 L182.95,58.07 L183.25,55.09 L183.55,53.10 L183.84,52.16 L184.16,53.29 L184.47,55.72 L184.79,59.37 L185.10,64.11 L185.41,69.74 L185.73,76.05 L186.04,82.76 L186.35,89.62 L186.67,96.33 L186.98,102.63 L187.30,108.27 L187.61,113.00 L187.92,116.66 L188.24,119.09 L188.55,120.21 L188.85,119.17 L189.15,116.87 L189.45,113.42 L189.75,108.96 L190.04,103.71 L190.34,97.90 L190.64,91.80 L190.94,85.71 L191.24,79.90 L191.53,74.64 L191.83,70.19 L192.13,66.74 L192.43,64.44 L192.73,63.39 L193.03,64.58 L193.33,67.09 L193.64,70.84 L193.94,75.74 L194.24,81.64 L194.55,88.34 L194.85,95.64 L195.15,103.31 L195.46,111.10 L195.76,118.77 L196.06,126.07 L196.36,132.77 L196.67,138.67 L196.97,143.57 L197.27,147.33 L197.58,149.83 L197.88,151.02 L198.19,149.88 L198.50,147.34 L198.80,143.52 L199.11,138.63 L199.42,132.92 L199.73,126.70 L200.03,120.30 L200.34,114.08 L200.65,108.37 L200.96,103.48 L201.26,99.66 L201.57,97.12 L201.88,95.98 L202.18,96.93 L202.49,98.88 L202.79,101.80 L203.09,105.61 L203.40,110.24 L203.70,115.55 L204.01,121.42 L204.31,127.70 L204.61,134.23 L204.92,140.84 L205.22,147.37 L205.53,153.65 L205.83,159.52 L206.13,164.83 L206.44,169.45 L206.74,173.27 L207.04,176.19 L207.35,178.14 L207.65,179.09 L207.96,178.09 L208.26,175.95 L208.57,172.74 L208.87,168.57 L209.18,163.57 L209.49,157.94 L209.79,151.85 L210.10,145.54 L210.40,139.23 L210.71,133.15 L211.01,127.51 L211.32,122.52 L211.62,118.34 L211.93,115.13 L212.23,113.00 L212.54,112.00 L212.85,113.24 L213.15,115.99 L213.46,120.13 L213.77,125.44 L214.08,131.63 L214.38,138.38 L214.69,145.31 L215.00,152.06 L215.31,158.25 L215.61,163.56 L215.92,167.70 L216.23,170.46 L216.54,171.70 L216.83,170.72 L217.13,168.68 L217.43,165.63 L217.72,161.64 L218.02,156.83 L218.31,151.32 L218.61,145.28 L218.91,138.86 L219.20,132.26 L219.50,125.66 L219.79,119.25 L220.09,113.20 L220.39,107.70 L220.68,102.88 L220.98,98.90 L221.27,95.85 L221.57,93.81 L221.87,92.83 L222.16,93.62 L222.46,95.33 L222.76,97.91 L223.05,101.24 L223.35,105.21 L223.64,109.65 L223.94,114.38 L224.24,119.20 L224.53,123.93 L224.83,128.37 L225.12,132.34 L225.42,135.67 L225.72,138.25 L226.01,139.96 L226.31,140.75 L226.61,139.52 L226.90,136.85 L227.20,132.83 L227.49,127.63 L227.79,121.44 L228.09,114.52 L228.38,107.14 L228.68,99.61 L228.97,92.23 L229.27,85.31 L229.57,79.12 L229.86,73.91 L230.16,69.90 L230.46,67.23 L230.75,65.99 L231.06,66.73 L231.38,68.28 L231.69,70.60 L232.01,73.64 L232.32,77.28 L232.63,81.43 L232.95,85.95 L233.26,90.69 L233.57,95.51 L233.89,100.26 L234.20,104.78 L234.51,108.92 L234.83,112.57 L235.14,115.60 L235.45,117.93 L235.77,119.48 L236.08,120.21 L236.39,119.27 L236.69,117.27 L237.00,114.26 L237.30,110.34 L237.61,105.65 L237.91,100.36 L238.22,94.64 L238.52,88.72 L238.83,82.80 L239.14,77.09 L239.44,71.79 L239.75,67.11 L240.05,63.19 L240.36,60.17 L240.66,58.17 L240.97,57.23 L241.27,58.49 L241.56,61.26 L241.86,65.42 L242.16,70.79 L242.46,77.12 L242.76,84.12 L243.06,91.46 L243.35,98.80 L243.65,105.80 L243.95,112.13 L244.25,117.50 L244.55,121.66 L244.85,124.43 L245.14,125.69 L245.44,124.90 L245.74,123.22 L246.04,120.69 L246.34,117.40 L246.64,113.47 L246.94,109.03 L247.24,104.23 L247.54,99.26 L247.84,94.29 L248.14,89.50 L248.44,85.06 L248.74,81.13 L249.04,77.84 L249.34,75.31 L249.64,73.63 L249.94,72.84 L250.25,73.78 L250.56,75.78 L250.87,78.77 L251.17,82.66 L251.48,87.35 L251.79,92.68 L252.10,98.49 L252.41,104.59 L252.72,110.78 L253.02,116.88 L253.33,122.69 L253.64,128.02 L253.95,132.71 L254.26,136.60 L254.57,139.59 L254.87,141.59 L255.18,142.53 L255.49,141.92 L255.79,140.65 L256.09,138.76 L256.40,136.29 L256.70,133.30 L257.01,129.86 L257.31,126.06 L257.61,122.00 L257.92,117.77 L258.22,113.49 L258.53,109.26 L258.83,105.19 L259.13,101.39 L259.44,97.95 L259.74,94.96 L260.05,92.49 L260.35,90.60 L260.65,89.34 L260.96,88.72 L261.26,89.92 L261.57,92.57 L261.88,96.56 L262.19,101.67 L262.49,107.63 L262.80,114.13 L263.11,120.82 L263.42,127.31 L263.72,133.28 L264.03,138.39 L264.34,142.38 L264.65,145.03 L264.95,146.23 L265.26,145.55 L265.56,144.15 L265.87,142.06 L266.17,139.32 L266.47,136.01 L266.78,132.20 L267.08,128.00 L267.39,123.50 L267.69,118.82 L267.99,114.08 L268.30,109.40 L268.60,104.90 L268.91,100.69 L269.21,96.88 L269.51,93.57 L269.82,90.84 L270.12,88.75 L270.43,87.35 L270.73,86.67 L271.03,87.55 L271.34,89.50 L271.64,92.42 L271.95,96.18 L272.25,100.63 L272.56,105.54 L272.86,110.70 L273.17,115.85 L273.47,120.77 L273.78,125.21 L274.08,128.98 L274.38,131.90 L274.69,133.84 L274.99,134.73 L275.29,133.63 L275.59,131.21 L275.89,127.59 L276.19,122.91 L276.48,117.39 L276.78,111.28 L277.08,104.88 L277.38,98.47 L277.68,92.37 L277.98,86.85 L278.27,82.17 L278.57,78.54 L278.87,76.13 L279.17,75.03 L279.47,75.56 L279.78,76.65 L280.08,78.29 L280.38,80.43 L280.69,83.02 L280.99,85.99 L281.30,89.28 L281.60,92.80 L281.90,96.45 L282.21,100.16 L282.51,103.82 L282.82,107.33 L283.12,110.62 L283.42,113.60 L283.73,116.19 L284.03,118.32 L284.34,119.96 L284.64,121.05 L284.94,121.58 L285.25,120.37 L285.56,117.69 L285.87,113.65 L286.17,108.48 L286.48,102.44 L286.79,95.87 L287.10,89.11 L287.40,82.53 L287.71,76.49 L288.02,71.32 L288.33,67.29 L288.63,64.60 L288.94,63.39 L289.25,64.13 L289.57,65.70 L289.88,68.05 L290.20,71.11 L290.51,74.80 L290.82,78.98 L291.14,83.55 L291.45,88.34 L291.76,93.21 L292.08,98.00 L292.39,102.57 L292.70,106.76 L293.02,110.44 L293.33,113.50 L293.64,115.85 L293.96,117.42 L294.27,118.16 L294.58,117.39 L294.88,115.74 L295.19,113.26 L295.49,110.04 L295.80,106.19 L296.10,101.84 L296.41,97.15 L296.71,92.28 L297.02,87.41 L297.33,82.72 L297.63,78.37 L297.94,74.52 L298.24,71.30 L298.55,68.82 L298.85,67.17 L299.16,66.40 L299.47,67.62 L299.77,70.31 L300.08,74.35 L300.39,79.54 L300.70,85.59 L301.00,92.18 L301.31,98.96 L301.62,105.55 L301.93,111.60 L302.23,116.78 L302.54,120.83 L302.85,123.52 L303.16,124.73 L303.46,124.16 L303.76,123.00 L304.07,121.25 L304.37,118.97 L304.68,116.21 L304.98,113.03 L305.28,109.52 L305.59,105.76 L305.89,101.86 L306.20,97.90 L306.50,94.00 L306.80,90.24 L307.11,86.73 L307.41,83.56 L307.71,80.79 L308.02,78.51 L308.32,76.76 L308.63,75.60 L308.93,75.03 L309.23,76.69 L309.53,80.49 L309.83,86.15 L310.13,93.27 L310.42,101.32 L310.72,109.67 L311.02,117.72 L311.32,124.83 L311.62,130.50 L311.92,134.29 L312.22,135.96 L312.53,135.26 L312.84,133.80 L313.15,131.62 L313.46,128.77 L313.77,125.32 L314.08,121.39 L314.39,117.06 L314.71,112.47 L315.02,107.75 L315.33,103.03 L315.64,98.44 L315.95,94.12 L316.26,90.18 L316.57,86.74 L316.88,83.89 L317.19,81.71 L317.50,80.25 L317.81,79.55 L318.12,80.62 L318.43,83.00 L318.74,86.58 L319.04,91.17 L319.35,96.52 L319.66,102.36 L319.97,108.36 L320.27,114.19 L320.58,119.55 L320.89,124.13 L321.20,127.71 L321.50,130.09 L321.81,131.17 L322.12,130.54 L322.42,129.24 L322.72,127.30 L323.03,124.77 L323.33,121.70 L323.64,118.17 L323.94,114.28 L324.24,110.11 L324.55,105.77 L324.85,101.38 L325.16,97.05 L325.46,92.88 L325.76,88.98 L326.07,85.45 L326.37,82.39 L326.68,79.85 L326.98,77.91 L327.28,76.62 L327.59,75.99 L327.89,76.86 L328.20,78.77 L328.50,81.64 L328.81,85.34 L329.11,89.71 L329.41,94.54 L329.72,99.61 L330.02,104.67 L330.33,109.50 L330.63,113.87 L330.94,117.58 L331.24,120.45 L331.55,122.36 L331.85,123.23 L332.15,122.48 L332.45,120.90 L332.74,118.53 L333.04,115.45 L333.34,111.74 L333.64,107.52 L333.94,102.92 L334.23,98.09 L334.53,93.18 L334.83,88.35 L335.13,83.76 L335.43,79.54 L335.72,75.83 L336.02,72.74 L336.32,70.37 L336.62,68.79 L336.92,68.05 L337.22,68.74 L337.53,70.23 L337.83,72.46 L338.14,75.37 L338.44,78.84 L338.75,82.77 L339.05,87.00 L339.36,91.39 L339.66,95.78 L339.97,100.02 L340.27,103.94 L340.58,107.42 L340.89,110.32 L341.19,112.55 L341.50,114.04 L341.80,114.74 L342.10,113.91 L342.39,112.12 L342.69,109.43 L342.99,105.94 L343.28,101.79 L343.58,97.15 L343.87,92.20 L344.17,87.16 L344.47,82.21 L344.76,77.57 L345.06,73.42 L345.35,69.93 L345.65,67.24 L345.95,65.45 L346.24,64.62 L346.55,65.35 L346.85,66.90 L347.16,69.23 L347.46,72.27 L347.77,75.90 L348.08,79.99 L348.38,84.41 L348.69,89.00 L348.99,93.58 L349.30,98.00 L349.60,102.10 L349.91,105.72 L350.21,108.76 L350.52,111.09 L350.82,112.64 L351.13,113.37 L351.43,112.85 L351.73,111.77 L352.03,110.15 L352.33,108.04 L352.63,105.49 L352.94,102.58 L353.24,99.38 L353.54,95.98 L353.84,92.49 L354.14,88.99 L354.44,85.60 L354.74,82.39 L355.04,79.48 L355.34,76.93 L355.65,74.82 L355.95,73.20 L356.25,72.12 L356.55,71.61 L356.86,72.42 L357.16,74.18 L357.47,76.83 L357.78,80.26 L358.09,84.34 L358.40,88.90 L358.70,93.77 L359.01,98.74 L359.32,103.60 L359.63,108.16 L359.94,112.24 L360.24,115.68 L360.55,118.32 L360.86,120.08 L361.17,120.90 L361.46,120.11 L361.76,118.42 L362.06,115.86 L362.35,112.56 L362.65,108.62 L362.95,104.22 L363.24,99.54 L363.54,94.75 L363.83,90.06 L364.13,85.66 L364.43,81.73 L364.72,78.42 L365.02,75.87 L365.31,74.17 L365.61,73.39 L365.91,74.26 L366.21,76.17 L366.51,79.05 L366.80,82.77 L367.10,87.15 L367.40,91.99 L367.70,97.07 L368.00,102.16 L368.29,107.00 L368.59,111.38 L368.89,115.09 L369.19,117.97 L369.49,119.89 L369.79,120.76 L370.09,120.23 L370.39,119.14 L370.70,117.51 L371.00,115.38 L371.31,112.80 L371.61,109.83 L371.91,106.55 L372.22,103.05 L372.52,99.40 L372.83,95.71 L373.13,92.06 L373.43,88.55 L373.74,85.27 L374.04,82.31 L374.34,79.73 L374.65,77.60 L374.95,75.97 L375.26,74.87 L375.56,74.34 L375.87,75.31 L376.18,77.45 L376.48,80.67 L376.79,84.80 L377.10,89.61 L377.41,94.86 L377.71,100.25 L378.02,105.50 L378.33,110.31 L378.64,114.44 L378.94,117.65 L379.25,119.80 L379.56,120.76 L379.86,120.00 L380.17,118.39 L380.47,115.96 L380.78,112.80 L381.09,109.01 L381.39,104.74 L381.70,100.14 L382.00,95.36 L382.31,90.59 L382.61,85.98 L382.92,81.71 L383.22,77.93 L383.53,74.77 L383.83,72.34 L384.14,70.72 L384.44,69.96 L384.74,70.73 L385.04,72.38 L385.33,74.87 L385.63,78.09 L385.93,81.92 L386.22,86.20 L386.52,90.77 L386.81,95.43 L387.11,100.00 L387.41,104.29 L387.70,108.12 L388.00,111.34 L388.29,113.83 L388.59,115.48 L388.89,116.24 L389.19,115.55 L389.50,114.08 L389.80,111.87 L390.11,108.99 L390.41,105.54 L390.72,101.65 L391.02,97.46 L391.33,93.10 L391.63,88.75 L391.94,84.55 L392.25,80.67 L392.55,77.22 L392.86,74.34 L393.16,72.13 L393.47,70.65 L393.77,69.96 L394.07,70.47 L394.36,71.53 L394.66,73.12 L394.96,75.20 L395.25,77.71 L395.55,80.57 L395.85,83.72 L396.14,87.06 L396.44,90.50 L396.73,93.94 L397.03,97.28 L397.33,100.43 L397.62,103.30 L397.92,105.80 L398.21,107.88 L398.51,109.47 L398.81,110.53 L399.10,111.04 L399.40,110.53 L399.70,109.47 L399.99,107.88 L400.29,105.80 L400.58,103.30 L400.88,100.43 L401.18,97.28 L401.47,93.94 L401.77,90.50 L402.06,87.06 L402.36,83.72 L402.66,80.57 L402.95,77.71 L403.25,75.20 L403.55,73.12 L403.84,71.53 L404.14,70.47 L404.43,69.96 L404.73,70.55 L405.03,71.77 L405.32,73.60 L405.62,75.99 L405.91,78.87 L406.21,82.17 L406.51,85.79 L406.80,89.63 L407.10,93.58 L407.39,97.54 L407.69,101.38 L407.99,105.00 L408.28,108.30 L408.58,111.18 L408.88,113.57 L409.17,115.39 L409.47,116.62 L409.76,117.20 L410.07,116.52 L410.37,115.07 L410.68,112.89 L410.99,110.05 L411.29,106.66 L411.60,102.83 L411.90,98.69 L412.21,94.40 L412.51,90.12 L412.82,85.98 L413.12,82.15 L413.43,78.76 L413.73,75.92 L414.04,73.74 L414.34,72.29 L414.65,71.61 L414.96,72.54 L415.27,74.63 L415.57,77.76 L415.88,81.78 L416.19,86.47 L416.50,91.57 L416.80,96.82 L417.11,101.93 L417.42,106.62 L417.73,110.63 L418.03,113.77 L418.34,115.85 L418.65,116.79 L418.94,116.06 L419.24,114.49 L419.54,112.12 L419.83,109.05 L420.13,105.40 L420.42,101.32 L420.72,96.97 L421.02,92.53 L421.31,88.17 L421.61,84.09 L421.91,80.44 L422.20,77.37 L422.50,75.01 L422.79,73.43 L423.09,72.70 L423.40,73.35 L423.70,74.73 L424.01,76.81 L424.31,79.51 L424.62,82.74 L424.92,86.39 L425.23,90.32 L425.53,94.40 L425.84,98.49 L426.14,102.42 L426.45,106.07 L426.75,109.30 L427.06,112.00 L427.37,114.08 L427.67,115.46 L427.98,116.11 L428.27,115.37 L428.57,113.78 L428.86,111.39 L429.16,108.29 L429.46,104.61 L429.75,100.49 L430.05,96.10 L430.35,91.61 L430.64,87.22 L430.94,83.10 L431.23,79.42 L431.53,76.32 L431.83,73.93 L432.12,72.34 L432.42,71.61 L432.71,72.15 L433.01,73.28 L433.31,74.98 L433.60,77.19 L433.90,79.87 L434.19,82.93 L434.49,86.28 L434.79,89.85 L435.08,93.51 L435.38,97.18 L435.68,100.74 L435.97,104.10 L436.27,107.16 L436.56,109.83 L436.86,112.05 L437.16,113.75 L437.45,114.88 L437.75,115.42 L438.04,114.67 L438.34,113.05 L438.64,110.61 L438.93,107.44 L439.23,103.68 L439.53,99.47 L439.82,94.98 L440.12,90.40 L440.41,85.92 L440.71,81.71 L441.01,77.94 L441.30,74.78 L441.60,72.34 L441.89,70.71 L442.19,69.96 L442.50,70.62 L442.80,72.01 L443.11,74.11 L443.41,76.83 L443.72,80.10 L444.02,83.78 L444.33,87.75 L444.63,91.87 L444.94,95.99 L445.24,99.96 L445.55,103.65 L445.86,106.91 L446.16,109.63 L446.47,111.73 L446.77,113.13 L447.08,113.78 L447.38,113.11 L447.69,111.68 L447.99,109.54 L448.30,106.76 L448.60,103.42 L448.91,99.66 L449.21,95.60 L449.52,91.39 L449.83,87.18 L450.13,83.12 L450.44,79.36 L450.74,76.03 L451.05,73.24 L451.35,71.10 L451.66,69.67 L451.96,69.01 L452.26,69.73 L452.56,71.29 L452.85,73.65 L453.15,76.70 L453.44,80.32 L453.74,84.38 L454.04,88.71 L454.33,93.12 L454.63,97.44 L454.92,101.50 L455.22,105.13 L455.52,108.18 L455.81,110.53 L456.11,112.10 L456.40,112.82 L456.72,112.25 L457.03,111.05 L457.35,109.26 L457.66,106.91 L457.97,104.10 L458.29,100.89 L458.60,97.40 L458.91,93.73 L459.23,90.01 L459.54,86.34 L459.85,82.85 L460.17,79.65 L460.48,76.83 L460.79,74.49 L461.11,72.69 L461.42,71.49 L461.74,70.92 L462.03,71.63 L462.33,73.16 L462.62,75.46 L462.92,78.45 L463.22,81.99 L463.51,85.96 L463.81,90.19 L464.10,94.51 L464.40,98.74 L464.70,102.71 L464.99,106.25 L465.29,109.24 L465.58,111.54 L465.88,113.07 L466.18,113.78 L466.48,113.18 L466.79,111.89 L467.09,109.96 L467.40,107.44 L467.70,104.44 L468.01,101.04 L468.31,97.38 L468.62,93.58 L468.93,89.78 L469.23,86.12 L469.54,82.73 L469.84,79.72 L470.15,77.21 L470.45,75.28 L470.76,73.99 L471.06,73.39 L471.37,73.93 L471.67,75.09 L471.98,76.83 L472.28,79.10 L472.59,81.81 L472.90,84.87 L473.20,88.17 L473.51,91.60 L473.81,95.02 L474.12,98.32 L474.42,101.39 L474.73,104.10 L475.03,106.36 L475.34,108.10 L475.64,109.26 L475.95,109.81 L476.26,109.07 L476.56,107.43 L476.87,104.98 L477.18,101.82 L477.49,98.14 L477.79,94.14 L478.10,90.02 L478.41,86.01 L478.72,82.33 L479.02,79.18 L479.33,76.72 L479.64,75.08 L479.95,74.34 L480.25,74.92 L480.56,76.14 L480.86,77.98 L481.17,80.38 L481.47,83.24 L481.78,86.48 L482.09,89.96 L482.39,93.58 L482.70,97.20 L483.00,100.69 L483.31,103.92 L483.61,106.79 L483.92,109.18 L484.22,111.02 L484.53,112.25 L484.83,112.82 L485.13,112.31 L485.43,111.24 L485.72,109.65 L486.02,107.56 L486.31,105.05 L486.61,102.17 L486.91,99.01 L487.20,95.66 L487.50,92.21 L487.79,88.76 L488.09,85.41 L488.39,82.25 L488.68,79.38 L488.98,76.86 L489.28,74.78 L489.57,73.18 L489.87,72.12 L490.16,71.61 L490.46,72.27 L490.76,73.72 L491.05,75.89 L491.35,78.70 L491.64,82.04 L491.94,85.78 L492.24,89.77 L492.53,93.84 L492.83,97.82 L493.13,101.56 L493.42,104.91 L493.72,107.72 L494.01,109.89 L494.31,111.33 L494.61,112.00 L494.90,111.60 L495.20,110.81 L495.49,109.62 L495.79,108.07 L496.09,106.18 L496.38,104.00 L496.68,101.56 L496.98,98.92 L497.27,96.14 L497.57,93.26 L497.86,90.35 L498.16,87.47 L498.46,84.68 L498.75,82.04 L499.05,79.60 L499.34,77.42 L499.64,75.53 L499.94,73.98 L500.23,72.80 L500.53,72.00 L500.82,71.61 L501.14,72.73 L501.45,75.32 L501.76,79.16 L502.07,83.91 L502.38,89.13 L502.69,94.36 L503.00,99.10 L503.31,102.94 L503.62,105.54 L503.93,106.66 L504.23,106.23 L504.53,105.34 L504.82,104.01 L505.12,102.28 L505.41,100.18 L505.71,97.78 L506.01,95.15 L506.30,92.35 L506.60,89.47 L506.90,86.60 L507.19,83.80 L507.49,81.17 L507.78,78.77 L508.08,76.67 L508.38,74.94 L508.67,73.61 L508.97,72.72 L509.26,72.29 L509.57,73.12 L509.88,74.95 L510.19,77.70 L510.49,81.23 L510.80,85.35 L511.11,89.84 L511.42,94.45 L511.72,98.94 L512.03,103.06 L512.34,106.59 L512.65,109.34 L512.95,111.17 L513.26,112.00 L513.57,111.58 L513.88,110.73 L514.20,109.45 L514.51,107.79 L514.82,105.77 L515.13,103.44 L515.44,100.85 L515.75,98.06 L516.06,95.14 L516.37,92.14 L516.68,89.15 L516.99,86.23 L517.30,83.44 L517.62,80.85 L517.93,78.52 L518.24,76.50 L518.55,74.83 L518.86,73.56 L519.17,72.71 L519.48,72.29 L519.78,72.86 L520.07,74.09 L520.37,75.93 L520.67,78.32 L520.96,81.17 L521.26,84.35 L521.55,87.74 L521.85,91.21 L522.15,94.60 L522.44,97.78 L522.74,100.62 L523.03,103.02 L523.33,104.86 L523.63,106.09 L523.92,106.66 L524.22,106.09 L524.52,104.86 L524.81,103.02 L525.11,100.62 L525.40,97.78 L525.70,94.60 L526.00,91.21 L526.29,87.74 L526.59,84.35 L526.88,81.17 L527.18,78.32 L527.48,75.93 L527.77,74.09 L528.07,72.86 L528.37,72.29" stroke-dasharray="14.7,8.4" stroke-dashoffset="3.34"/>
<path d="M81.50,228.38 L99.27,228.38 L99.45,229.97 L99.62,231.55 L99.80,233.09 L99.98,234.59 L100.16,236.04 L100.33,237.42 L100.51,238.73 L100.69,239.95 L100.87,241.06 L101.04,242.07 L101.22,243.02 L101.40,243.97 L101.58,244.91 L101.76,245.84 L101.93,246.76 L102.11,247.66 L102.29,248.53 L102.47,249.38 L102.64,250.20 L102.82,250.98 L103.00,251.71 L103.18,252.41 L103.35,253.05 L103.53,253.63 L103.71,254.16 L103.89,254.63 L104.07,255.02 L104.24,255.35 L104.42,255.60 L104.60,255.76 L104.78,255.89 L104.95,256.00 L105.13,256.12 L105.31,256.23 L105.49,256.33 L105.66,256.43 L105.84,256.52 L106.02,256.60 L106.20,256.69 L106.38,256.76 L106.55,256.83 L106.73,256.89 L106.91,256.95 L107.09,256.99 L107.26,257.04 L107.44,257.07 L107.62,257.10 L107.80,257.12 L107.97,257.13 L108.15,257.13 L108.33,257.12 L108.51,257.06 L108.69,256.98 L108.86,256.86 L109.04,256.71 L109.22,256.54 L109.40,256.34 L109.57,256.11 L109.75,255.87 L109.93,255.60 L110.11,255.31 L110.28,255.01 L110.46,254.69 L110.64,254.36 L110.82,254.01 L110.99,253.66 L111.17,253.29 L111.35,252.92 L111.53,252.55 L111.71,252.17 L111.88,251.79 L112.06,251.41 L112.24,251.03 L112.42,250.66 L112.59,250.29 L112.77,249.91 L112.95,249.51 L113.13,249.09 L113.30,248.64 L113.48,248.18 L113.66,247.69 L113.84,247.19 L114.02,246.68 L114.19,246.15 L114.37,245.60 L114.55,245.04 L114.73,244.47 L114.90,243.90 L115.08,243.31 L115.26,242.71 L115.44,242.11 L115.61,241.50 L115.79,240.89 L115.97,240.27 L116.15,239.66 L116.33,239.04 L116.50,238.43 L116.68,237.81 L116.86,237.20 L117.04,236.60 L117.21,235.99 L117.39,235.37 L117.57,234.74 L117.75,234.11 L117.92,233.47 L118.10,232.82 L118.28,232.16 L118.46,231.50 L118.64,230.83 L118.81,230.16 L118.99,229.48 L119.17,228.80 L119.35,228.12 L119.52,227.43 L119.70,226.74 L119.88,226.05 L120.06,225.35 L120.23,224.66 L120.41,223.96 L120.59,223.27 L120.77,222.57 L120.94,221.88 L121.12,221.19 L121.30,220.49 L121.48,219.79 L121.66,219.08 L121.83,218.37 L122.01,217.65 L122.19,216.93 L122.37,216.20 L122.54,215.47 L122.72,214.74 L122.90,214.01 L123.08,213.27 L123.25,212.53 L123.43,211.79 L123.61,211.05 L123.79,210.31 L123.97,209.57 L124.14,208.82 L124.32,208.08 L124.50,207.34 L124.68,206.60 L124.85,205.86 L125.03,205.12 L125.21,204.38 L125.39,203.65 L125.56,202.91 L125.74,202.19 L125.92,201.46 L126.10,200.74 L126.28,200.02 L126.45,199.31 L126.63,198.60 L126.81,197.89 L126.99,197.19 L127.16,196.50 L127.34,195.81 L127.52,195.13 L127.70,194.46 L127.87,193.80 L128.05,193.14 L128.23,192.48 L128.41,191.83 L128.59,191.18 L128.76,190.53 L128.94,189.89 L129.12,189.25 L129.30,188.61 L129.47,187.98 L129.65,187.35 L129.83,186.72 L130.01,186.09 L130.18,185.47 L130.36,184.85 L130.54,184.23 L130.72,183.62 L130.90,183.00 L131.07,182.39 L131.25,181.78 L131.43,181.18 L131.61,180.58 L131.78,179.97 L131.96,179.38 L132.14,178.78 L132.32,178.19 L132.49,177.59 L132.67,177.00 L132.85,176.42 L133.03,175.83 L133.20,175.25 L133.38,174.66 L133.56,174.08 L133.74,173.50 L133.92,172.93 L134.09,172.35 L134.27,171.78 L134.45,171.21 L134.63,170.64 L134.80,170.07 L134.98,169.50 L135.16,168.94 L135.34,168.37 L135.51,167.81 L135.69,167.24 L135.87,166.68 L136.05,166.11 L136.23,165.55 L136.40,164.99 L136.58,164.43 L136.76,163.87 L136.94,163.31 L137.11,162.75 L137.29,162.19 L137.47,161.64 L137.65,161.09 L137.82,160.53 L138.00,159.98 L138.18,159.44 L138.36,158.89 L138.54,158.35 L138.71,157.80 L138.89,157.27 L139.07,156.73 L139.25,156.19 L139.42,155.66 L139.60,155.13 L139.78,154.61 L139.96,154.09 L140.13,153.57 L140.31,153.05 L140.49,152.54 L140.67,152.03 L140.85,151.52 L141.02,151.02 L141.20,150.52 L141.38,150.03 L141.56,149.54 L141.73,149.05 L141.91,148.57 L142.09,148.09 L142.27,147.62 L142.44,147.15 L142.62,146.69 L142.80,146.23 L142.98,145.77 L143.15,145.32 L143.33,144.88 L143.51,144.44 L143.69,144.00 L143.87,143.57 L144.04,143.14 L144.22,142.71 L144.40,142.29 L144.58,141.87 L144.75,141.45 L144.93,141.04 L145.11,140.63 L145.29,140.22 L145.46,139.82 L145.64,139.41 L145.82,139.01 L146.00,138.61 L146.18,138.22 L146.35,137.82 L146.53,137.43 L146.71,137.04 L146.89,136.65 L147.06,136.26 L147.24,135.87 L147.42,135.49 L147.60,135.10 L147.77,134.72 L147.95,134.33 L148.13,133.95 L148.31,133.57 L148.49,133.18 L148.66,132.80 L148.84,132.42 L149.02,132.03 L149.20,131.65 L149.37,131.27 L149.55,130.88 L149.73,130.49 L149.91,130.11 L150.08,129.72 L150.26,129.33 L150.44,128.94 L150.62,128.54 L150.80,128.14 L150.97,127.74 L151.15,127.34 L151.33,126.93 L151.51,126.53 L151.68,126.13 L151.86,125.72 L152.04,125.32 L152.22,124.91 L152.39,124.51 L152.57,124.11 L152.75,123.71 L152.93,123.32 L153.11,122.93 L153.28,122.54 L153.46,122.15 L153.64,121.77 L153.82,121.40 L153.99,121.03 L154.17,120.66 L154.35,120.31 L154.53,119.95 L154.70,119.61 L154.88,119.27 L155.06,118.94 L155.24,118.62 L155.41,118.31 L155.59,118.01 L155.77,117.71 L155.95,117.42 L156.13,117.13 L156.30,116.84 L156.48,116.56 L156.66,116.28 L156.84,116.01 L157.01,115.74 L157.19,115.47 L157.37,115.21 L157.55,114.95 L157.72,114.69 L157.90,114.44 L158.08,114.19 L158.26,113.94 L158.44,113.69 L158.61,113.45 L158.79,113.21 L158.97,112.97 L159.15,112.73 L159.32,112.49 L159.50,112.26 L159.68,112.03 L159.86,111.80 L160.03,111.57 L160.21,111.34 L160.39,111.11 L160.57,110.88 L160.75,110.66 L160.92,110.43 L161.10,110.21 L161.28,109.98 L161.46,109.76 L161.63,109.53 L161.81,109.31 L161.99,109.08 L162.17,108.86 L162.34,108.63 L162.52,108.41 L162.70,108.18 L162.88,107.96 L163.06,107.74 L163.23,107.51 L163.41,107.29 L163.59,107.06 L163.77,106.84 L163.94,106.62 L164.12,106.40 L164.30,106.18 L164.48,105.96 L164.65,105.74 L164.83,105.53 L165.01,105.31 L165.19,105.10 L165.36,104.88 L165.54,104.67 L165.72,104.46 L165.90,104.26 L166.08,104.05 L166.25,103.84 L166.43,103.64 L166.61,103.44 L166.79,103.24 L166.96,103.05 L167.14,102.85 L167.32,102.66 L167.50,102.47 L167.67,102.29 L167.85,102.10 L168.03,101.92 L168.21,101.75 L168.39,101.57 L168.56,101.40 L168.74,101.23 L168.92,101.06 L169.10,100.90 L169.27,100.74 L169.45,100.59 L169.63,100.43 L169.81,100.29 L169.98,100.14 L170.16,99.99 L170.34,99.85 L170.52,99.71 L170.70,99.57 L170.87,99.43 L171.05,99.29 L171.23,99.15 L171.41,99.02 L171.58,98.88 L171.76,98.75 L171.94,98.62 L172.12,98.49 L172.29,98.36 L172.47,98.23 L172.65,98.10 L172.83,97.98 L173.01,97.86 L173.18,97.73 L173.36,97.61 L173.54,97.49 L173.72,97.37 L173.89,97.25 L174.07,97.14 L174.25,97.02 L174.43,96.91 L174.60,96.79 L174.78,96.68 L174.96,96.57 L175.14,96.46 L175.32,96.35 L175.49,96.24 L175.67,96.13 L175.85,96.03 L176.03,95.92 L176.20,95.82 L176.38,95.71 L176.56,95.61 L176.74,95.51 L176.91,95.40 L177.09,95.30 L177.27,95.20 L177.45,95.10 L177.62,95.01 L177.80,94.91 L177.98,94.81 L178.16,94.72 L178.34,94.62 L178.51,94.53 L178.69,94.43 L178.87,94.34 L179.05,94.24 L179.22,94.15 L179.40,94.06 L179.58,93.97 L179.76,93.88 L179.93,93.79 L180.11,93.69 L180.29,93.60 L180.47,93.51 L180.65,93.43 L180.82,93.34 L181.00,93.25 L181.18,93.16 L181.36,93.08 L181.53,92.99 L181.71,92.91 L181.89,92.83 L182.07,92.75 L182.24,92.67 L182.42,92.59 L182.60,92.52 L182.78,92.44 L182.96,92.37 L183.13,92.30 L183.31,92.23 L183.49,92.17 L183.67,92.10 L183.84,92.04 L184.02,91.98 L184.20,91.93 L184.38,91.87 L184.55,91.82 L184.73,91.76 L184.91,91.71 L185.09,91.66 L185.27,91.61 L185.44,91.56 L185.62,91.50 L185.80,91.45 L185.98,91.40 L186.15,91.35 L186.33,91.30 L186.51,91.25 L186.69,91.20 L186.86,91.15 L187.04,91.11 L187.22,91.06 L187.40,91.01 L187.57,90.97 L187.75,90.92 L187.93,90.88 L188.11,90.83 L188.29,90.79 L188.46,90.75 L188.64,90.71 L188.82,90.67 L189.00,90.63 L189.17,90.59 L189.35,90.55 L189.53,90.52 L189.71,90.48 L189.88,90.45 L190.06,90.42 L190.24,90.38 L190.42,90.35 L190.60,90.32 L190.77,90.30 L190.95,90.27 L191.13,90.24 L191.31,90.22 L191.48,90.20 L191.66,90.18 L191.84,90.16 L192.02,90.14 L192.19,90.12 L192.37,90.10 L192.55,90.09 L192.73,90.08 L192.91,90.07 L193.08,90.05 L193.26,90.04 L193.44,90.03 L193.62,90.01 L193.79,90.00 L193.97,89.99 L194.15,89.98 L194.33,89.97 L194.50,89.95 L194.68,89.94 L194.86,89.93 L195.04,89.92 L195.22,89.91 L195.39,89.90 L195.57,89.89 L195.75,89.88 L195.93,89.87 L196.10,89.85 L196.28,89.84 L196.46,89.83 L196.64,89.82 L196.81,89.81 L196.99,89.80 L197.17,89.79 L197.35,89.79 L197.53,89.78 L197.70,89.77 L197.88,89.76 L198.06,89.75 L198.24,89.74 L198.41,89.73 L198.59,89.72 L198.77,89.71 L198.95,89.71 L199.12,89.70 L199.30,89.69 L199.48,89.68 L199.66,89.68 L199.83,89.67 L200.01,89.66 L200.19,89.66 L200.37,89.65 L200.55,89.64 L200.72,89.64 L200.90,89.63 L201.08,89.62 L201.26,89.62 L201.43,89.61 L201.61,89.61 L201.79,89.60 L201.97,89.60 L202.14,89.59 L202.32,89.59 L202.50,89.58 L202.68,89.58 L202.86,89.58 L203.03,89.57 L203.21,89.57 L203.39,89.57 L203.57,89.56 L203.74,89.56 L203.92,89.56 L204.10,89.55 L204.28,89.55 L204.45,89.55 L204.63,89.55 L204.81,89.55 L204.99,89.55 L205.17,89.55 L205.34,89.54 L205.52,89.54 L205.70,89.54 L205.88,89.54 L206.05,89.54 L206.23,89.54 L206.41,89.54 L206.59,89.54 L206.76,89.54 L206.94,89.54 L207.12,89.54 L207.30,89.54 L207.48,89.54 L207.65,89.54 L207.83,89.54 L208.01,89.54 L208.19,89.54 L208.36,89.54 L208.54,89.54 L208.72,89.54 L208.90,89.54 L209.07,89.54 L209.25,89.54 L209.43,89.54 L209.61,89.54 L209.78,89.54 L209.96,89.54 L210.14,89.54 L210.32,89.54 L210.50,89.54 L210.67,89.54 L210.85,89.54 L211.03,89.54 L211.21,89.54 L211.38,89.54 L211.56,89.54 L211.74,89.54 L211.92,89.54 L212.09,89.54 L212.27,89.54 L212.45,89.54 L212.63,89.54 L212.81,89.54 L212.98,89.54 L213.16,89.54 L213.34,89.54 L213.52,89.54 L213.69,89.54 L213.87,89.54 L214.05,89.54 L214.23,89.54 L214.40,89.54 L214.58,89.54 L214.76,89.54 L214.94,89.54 L215.12,89.54 L215.29,89.54 L215.47,89.54 L215.65,89.54 L215.83,89.54 L216.00,89.54 L216.18,89.54 L216.36,89.54 L216.54,89.54 L216.71,89.54 L216.89,89.54 L217.07,89.54 L217.25,89.54 L217.43,89.54 L217.60,89.54 L217.78,89.54 L217.96,89.54 L218.14,89.54 L218.31,89.54 L218.49,89.54 L218.67,89.54 L218.85,89.54 L219.02,89.54 L219.20,89.54 L219.38,89.54 L219.56,89.54 L219.74,89.54 L219.91,89.54 L220.09,89.54 L220.27,89.54 L220.45,89.54 L220.62,89.54 L220.80,89.54 L220.98,89.54 L221.16,89.54 L221.33,89.54 L221.51,89.54 L221.69,89.54 L221.87,89.54 L222.04,89.54 L222.22,89.54 L222.40,89.54 L222.58,89.54 L222.76,89.54 L222.93,89.54 L223.11,89.54 L223.29,89.54 L223.47,89.54 L223.64,89.54 L223.82,89.54 L224.00,89.54 L224.18,89.54 L224.35,89.54 L224.53,89.54 L224.71,89.54 L224.89,89.54 L225.07,89.54 L225.24,89.54 L225.42,89.54 L225.60,89.54 L225.78,89.54 L225.95,89.54 L226.13,89.54 L226.31,89.54 L226.49,89.54 L226.66,89.54 L226.84,89.54 L227.02,89.54 L227.20,89.54 L227.38,89.54 L227.55,89.54 L227.73,89.54 L227.91,89.54 L228.09,89.54 L228.26,89.54 L228.44,89.54 L228.62,89.54 L228.80,89.54 L228.97,89.54 L229.15,89.54 L229.33,89.54 L229.51,89.54 L229.69,89.54 L229.86,89.54 L230.04,89.54 L230.22,89.54 L230.40,89.54 L230.57,89.54 L230.75,89.54 L230.93,89.54 L231.11,89.54 L231.28,89.54 L231.46,89.54 L231.64,89.54 L231.82,89.54 L231.99,89.54 L232.17,89.54 L232.35,89.54 L232.53,89.54 L232.71,89.54 L232.88,89.54 L233.06,89.54 L233.24,89.54 L233.42,89.54 L233.59,89.54 L233.77,89.54 L233.95,89.54 L234.13,89.54 L234.30,89.54 L234.48,89.54 L234.66,89.54 L234.84,89.54 L235.02,89.54 L235.19,89.54 L235.37,89.54 L235.55,89.54 L235.73,89.54 L235.90,89.54 L236.08,89.54 L236.26,89.54 L236.44,89.54 L236.61,89.54 L236.79,89.54 L236.97,89.54 L237.15,89.54 L237.33,89.54 L237.50,89.54 L237.68,89.54 L237.86,89.54 L238.04,89.54 L238.21,89.54 L238.39,89.54 L238.57,89.54 L238.75,89.54 L238.92,89.54 L239.10,89.54 L239.28,89.54 L239.46,89.54 L239.64,89.54 L239.81,89.54 L239.99,89.54 L240.17,89.54 L240.35,89.54 L240.52,89.54 L240.70,89.54 L240.88,89.54 L241.06,89.54 L241.23,89.54 L241.41,89.54 L241.59,89.54 L241.77,89.54 L241.95,89.54 L242.12,89.54 L242.30,89.54 L242.48,89.54 L242.66,89.54 L242.83,89.54 L243.01,89.54 L243.19,89.54 L243.37,89.54 L243.54,89.54 L243.72,89.54 L243.90,89.54 L244.08,89.54 L244.25,89.54 L244.43,89.54 L244.61,89.54 L244.79,89.54 L244.97,89.54 L245.14,89.54 L245.32,89.54 L245.50,89.54 L245.68,89.54 L245.85,89.54 L246.03,89.54 L246.21,89.54 L246.39,89.54 L246.56,89.54 L246.74,89.54 L246.92,89.54 L247.10,89.54 L247.28,89.54 L247.45,89.54 L247.63,89.54 L247.81,89.54 L247.99,89.54 L248.16,89.54 L248.34,89.54 L248.52,89.54 L248.70,89.54 L248.87,89.54 L249.05,89.54 L249.23,89.54 L249.41,89.54 L249.59,89.54 L249.76,89.54 L249.94,89.54 L250.12,89.54 L250.30,89.54 L250.47,89.54 L250.65,89.54 L250.83,89.54 L251.01,89.54 L251.18,89.54 L251.36,89.55 L251.54,89.55 L251.72,89.55 L251.90,89.55 L252.07,89.55 L252.25,89.55 L252.43,89.55 L252.61,89.56 L252.78,89.56 L252.96,89.56 L253.14,89.56 L253.32,89.56 L253.49,89.57 L253.67,89.57 L253.85,89.57 L254.03,89.57 L254.20,89.58 L254.38,89.58 L254.56,89.58 L254.74,89.59 L254.92,89.59 L255.09,89.59 L255.27,89.60 L255.45,89.60 L255.63,89.60 L255.80,89.61 L255.98,89.61 L256.16,89.62 L256.34,89.62 L256.51,89.62 L256.69,89.63 L256.87,89.63 L257.05,89.64 L257.23,89.64 L257.40,89.65 L257.58,89.65 L257.76,89.66 L257.94,89.66 L258.11,89.67 L258.29,89.67 L258.47,89.68 L258.65,89.68 L258.82,89.69 L259.00,89.69 L259.18,89.70 L259.36,89.70 L259.54,89.71 L259.71,89.72 L259.89,89.72 L260.07,89.73 L260.25,89.73 L260.42,89.74 L260.60,89.75 L260.78,89.75 L260.96,89.76 L261.13,89.76 L261.31,89.77 L261.49,89.78 L261.67,89.78 L261.85,89.79 L262.02,89.80 L262.20,89.80 L262.38,89.81 L262.56,89.82 L262.73,89.82 L262.91,89.83 L263.09,89.84 L263.27,89.84 L263.44,89.85 L263.62,89.86 L263.80,89.86 L263.98,89.87 L264.16,89.88 L264.33,89.89 L264.51,89.89 L264.69,89.90 L264.87,89.91 L265.04,89.91 L265.22,89.92 L265.40,89.93 L265.58,89.94 L265.75,89.94 L265.93,89.95 L266.11,89.96 L266.29,89.96 L266.46,89.97 L266.64,89.98 L266.82,89.99 L267.00,89.99 L267.18,90.00 L267.35,90.01 L267.53,90.02 L267.71,90.02 L267.89,90.03 L268.06,90.04 L268.24,90.04 L268.42,90.05 L268.60,90.06 L268.77,90.07 L268.95,90.07 L269.13,90.08 L269.31,90.09 L269.49,90.10 L269.66,90.10 L269.84,90.11 L270.02,90.12 L270.20,90.12 L270.37,90.13 L270.55,90.14 L270.73,90.15 L270.91,90.15 L271.08,90.16 L271.26,90.17 L271.44,90.17 L271.62,90.18 L271.80,90.19 L271.97,90.19 L272.15,90.20 L272.33,90.21 L272.51,90.21 L272.68,90.22 L272.86,90.23 L273.04,90.23 L273.22,90.24 L273.39,90.25 L273.57,90.25 L273.75,90.26 L273.93,90.27 L274.11,90.27 L274.28,90.28 L274.46,90.29 L274.64,90.29 L274.82,90.30 L274.99,90.30 L275.17,90.31 L275.35,90.32 L275.53,90.32 L275.70,90.33 L275.88,90.33 L276.06,90.34 L276.24,90.34 L276.41,90.35 L276.59,90.35 L276.77,90.36 L276.95,90.36 L277.13,90.37 L277.30,90.37 L277.48,90.38 L277.66,90.39 L277.84,90.39 L278.01,90.40 L278.19,90.40 L278.37,90.41 L278.55,90.41 L278.72,90.42 L278.90,90.42 L279.08,90.43 L279.26,90.43 L279.44,90.44 L279.61,90.44 L279.79,90.45 L279.97,90.46 L280.15,90.46 L280.32,90.47 L280.50,90.47 L280.68,90.48 L280.86,90.48 L281.03,90.49 L281.21,90.50 L281.39,90.50 L281.57,90.51 L281.75,90.51 L281.92,90.52 L282.10,90.52 L282.28,90.53 L282.46,90.54 L282.63,90.54 L282.81,90.55 L282.99,90.55 L283.17,90.56 L283.34,90.56 L283.52,90.57 L283.70,90.58 L283.88,90.58 L284.06,90.59 L284.23,90.59 L284.41,90.60 L284.59,90.61 L284.77,90.61 L284.94,90.62 L285.12,90.62 L285.30,90.63 L285.48,90.64 L285.65,90.64 L285.83,90.65 L286.01,90.65 L286.19,90.66 L286.37,90.67 L286.54,90.67 L286.72,90.68 L286.90,90.68 L287.08,90.69 L287.25,90.70 L287.43,90.70 L287.61,90.71 L287.79,90.71 L287.96,90.72 L288.14,90.73 L288.32,90.73 L288.50,90.74 L288.67,90.74 L288.85,90.75 L289.03,90.76 L289.21,90.76 L289.39,90.77 L289.56,90.77 L289.74,90.78 L289.92,90.79 L290.10,90.79 L290.27,90.80 L290.45,90.80 L290.63,90.81 L290.81,90.81 L290.98,90.82 L291.16,90.83 L291.34,90.83 L291.52,90.84 L291.70,90.84 L291.87,90.85 L292.05,90.86 L292.23,90.86 L292.41,90.87 L292.58,90.87 L292.76,90.88 L292.94,90.89 L293.12,90.89 L293.29,90.90 L293.47,90.90 L293.65,90.91 L293.83,90.91 L294.01,90.92 L294.18,90.93 L294.36,90.93 L294.54,90.94 L294.72,90.94 L294.89,90.95 L295.07,90.95 L295.25,90.96 L295.43,90.96 L295.60,90.97 L295.78,90.98 L295.96,90.98 L296.14,90.99 L296.32,90.99 L296.49,91.00 L296.67,91.00 L296.85,91.01 L297.03,91.01 L297.20,91.02 L297.38,91.02 L297.56,91.03 L297.74,91.03 L297.91,91.04 L298.09,91.04 L298.27,91.05 L298.45,91.05 L298.62,91.06 L298.80,91.06 L298.98,91.07 L299.16,91.07 L299.34,91.08 L299.51,91.08 L299.69,91.09 L299.87,91.09 L300.05,91.10 L300.22,91.10 L300.40,91.11 L300.58,91.11 L300.76,91.12 L300.93,91.12 L301.11,91.13 L301.29,91.13 L301.47,91.14 L301.65,91.14 L301.82,91.15 L302.00,91.15 L302.18,91.15 L302.36,91.16 L302.53,91.16 L302.71,91.17 L302.89,91.17 L303.07,91.18 L303.24,91.18 L303.42,91.18 L303.60,91.19 L303.78,91.19 L303.96,91.20 L304.13,91.20 L304.31,91.20 L304.49,91.21 L304.67,91.21 L304.84,91.21 L305.02,91.22 L305.20,91.22 L305.38,91.23 L305.55,91.23 L305.73,91.23 L305.91,91.24 L306.09,91.24 L306.27,91.24 L306.44,91.25 L306.62,91.25 L306.80,91.25 L306.98,91.26 L307.15,91.26 L307.33,91.26 L307.51,91.26 L307.69,91.27 L307.86,91.27 L308.04,91.27 L308.22,91.28 L308.40,91.28 L308.58,91.28 L308.75,91.28 L308.93,91.29 L309.11,91.29 L309.29,91.29 L309.46,91.29 L309.64,91.30 L309.82,91.30 L310.00,91.30 L310.17,91.30 L310.35,91.30 L310.53,91.31 L310.71,91.31 L310.88,91.31 L311.06,91.31 L311.24,91.31 L311.42,91.31 L311.60,91.32 L311.77,91.32 L311.95,91.32 L312.13,91.32 L312.31,91.32 L312.48,91.32 L312.66,91.32 L312.84,91.33 L313.02,91.33 L313.19,91.33 L313.37,91.33 L313.55,91.33 L313.73,91.33 L313.91,91.33 L314.08,91.33 L314.26,91.33 L314.44,91.34 L314.62,91.34 L314.79,91.34 L314.97,91.34 L315.15,91.34 L315.33,91.34 L315.50,91.34 L315.68,91.34 L315.86,91.35 L316.04,91.35 L316.22,91.35 L316.39,91.35 L316.57,91.35 L316.75,91.35 L316.93,91.35 L317.10,91.35 L317.28,91.35 L317.46,91.36 L317.64,91.36 L317.81,91.36 L317.99,91.36 L318.17,91.36 L318.35,91.36 L318.53,91.36 L318.70,91.36 L318.88,91.36 L319.06,91.36 L319.24,91.37 L319.41,91.37 L319.59,91.37 L319.77,91.37 L319.95,91.37 L320.12,91.37 L320.30,91.37 L320.48,91.37 L320.66,91.37 L320.83,91.38 L321.01,91.38 L321.19,91.38 L321.37,91.38 L321.55,91.38 L321.72,91.38 L321.90,91.38 L322.08,91.38 L322.26,91.38 L322.43,91.38 L322.61,91.39 L322.79,91.39 L322.97,91.39 L323.14,91.39 L323.32,91.39 L323.50,91.39 L323.68,91.39 L323.86,91.39 L324.03,91.39 L324.21,91.39 L324.39,91.39 L324.57,91.40 L324.74,91.40 L324.92,91.40 L325.10,91.40 L325.28,91.40 L325.45,91.40 L325.63,91.40 L325.81,91.40 L325.99,91.40 L326.17,91.40 L326.34,91.40 L326.52,91.40 L326.70,91.41 L326.88,91.41 L327.05,91.41 L327.23,91.41 L327.41,91.41 L327.59,91.41 L327.76,91.41 L327.94,91.41 L328.12,91.41 L328.30,91.41 L328.48,91.41 L328.65,91.41 L328.83,91.42 L329.01,91.42 L329.19,91.42 L329.36,91.42 L329.54,91.42 L329.72,91.42 L329.90,91.42 L330.07,91.42 L330.25,91.42 L330.43,91.42 L330.61,91.42 L330.79,91.42 L330.96,91.42 L331.14,91.43 L331.32,91.43 L331.50,91.43 L331.67,91.43 L331.85,91.43 L332.03,91.43 L332.21,91.43 L332.38,91.43 L332.56,91.43 L332.74,91.43 L332.92,91.43 L333.09,91.43 L333.27,91.43 L333.45,91.43 L333.63,91.43 L333.81,91.43 L333.98,91.44 L334.16,91.44 L334.34,91.44 L334.52,91.44 L334.69,91.44 L334.87,91.44 L335.05,91.44 L335.23,91.44 L335.40,91.44 L335.58,91.44 L335.76,91.44 L335.94,91.44 L336.12,91.44 L336.29,91.44 L336.47,91.44 L336.65,91.44 L336.83,91.44 L337.00,91.44 L337.18,91.45 L337.36,91.45 L337.54,91.45 L337.71,91.45 L337.89,91.45 L338.07,91.45 L338.25,91.45 L338.43,91.45 L338.60,91.45 L338.78,91.45 L338.96,91.45 L339.14,91.45 L339.31,91.45 L339.49,91.45 L339.67,91.45 L339.85,91.45 L340.02,91.45 L340.20,91.45 L340.38,91.45 L340.56,91.45 L340.74,91.45 L340.91,91.45 L341.09,91.45 L341.27,91.45 L341.45,91.45 L341.62,91.45 L341.80,91.45 L341.98,91.46 L342.16,91.46 L342.33,91.46 L342.51,91.46 L342.69,91.46 L342.87,91.46 L343.04,91.46 L343.22,91.46 L343.40,91.46 L343.58,91.46 L343.76,91.46 L343.93,91.46 L344.11,91.46 L344.29,91.46 L344.47,91.46 L344.64,91.46 L344.82,91.46 L345.00,91.46 L345.18,91.46 L345.35,91.46 L345.53,91.46 L345.71,91.46 L345.89,91.46 L346.07,91.46 L346.24,91.46 L346.42,91.46 L346.60,91.46 L346.78,91.46 L346.95,91.46 L347.13,91.46 L347.31,91.46 L347.49,91.46 L347.66,91.46 L347.84,91.46 L348.02,91.46 L348.20,91.46 L348.38,91.46 L348.55,91.46 L348.73,91.46 L348.91,91.46 L349.09,91.46 L349.26,91.46 L349.44,91.46 L349.62,91.46 L349.80,91.46 L349.97,91.46 L350.15,91.46 L350.33,91.46 L350.51,91.46 L350.69,91.46 L350.86,91.46 L351.04,91.46 L351.22,91.46 L351.40,91.46 L351.57,91.46 L351.75,91.46 L351.93,91.46 L352.11,91.46 L352.28,91.46 L352.46,91.46 L352.64,91.46 L352.82,91.46 L353.00,91.46 L353.17,91.46 L353.35,91.46 L353.53,91.46 L353.71,91.46 L353.88,91.46 L354.06,91.46 L354.24,91.46 L354.42,91.46 L354.59,91.46 L354.77,91.46 L354.95,91.46 L355.13,91.46 L355.30,91.46 L355.48,91.46 L355.66,91.46 L355.84,91.46 L356.02,91.46 L356.19,91.46 L356.37,91.46 L356.55,91.46 L356.73,91.46 L356.90,91.46 L357.08,91.46 L357.26,91.46 L357.44,91.46 L357.61,91.46 L357.79,91.46 L357.97,91.46 L358.15,91.46 L358.33,91.46 L358.50,91.46 L358.68,91.46 L358.86,91.46 L359.04,91.46 L359.21,91.46 L359.39,91.46 L359.57,91.46 L359.75,91.46 L359.92,91.46 L360.10,91.46 L360.28,91.46 L360.46,91.46 L360.64,91.46 L360.81,91.46 L360.99,91.46 L361.17,91.46 L361.35,91.46 L361.52,91.46 L361.70,91.46 L361.88,91.46 L362.06,91.46 L362.23,91.46 L362.41,91.46 L362.59,91.46 L362.77,91.46 L362.95,91.46 L363.12,91.46 L363.30,91.46 L363.48,91.46 L363.66,91.46 L363.83,91.46 L364.01,91.46 L364.19,91.46 L364.37,91.46 L364.54,91.46 L364.72,91.46 L364.90,91.46 L365.08,91.46 L365.25,91.46 L365.43,91.46 L365.61,91.46 L365.79,91.46 L365.97,91.46 L366.14,91.46 L366.32,91.46 L366.50,91.46 L366.68,91.46 L366.85,91.46 L367.03,91.46 L367.21,91.46 L367.39,91.46 L367.56,91.46 L367.74,91.46 L367.92,91.46 L368.10,91.46 L368.28,91.46 L368.45,91.46 L368.63,91.46 L368.81,91.46 L368.99,91.46 L369.16,91.46 L369.34,91.46 L369.52,91.46 L369.70,91.46 L369.87,91.46 L370.05,91.46 L370.23,91.46 L370.41,91.46 L370.59,91.46 L370.76,91.46 L370.94,91.46 L371.12,91.46 L371.30,91.46 L371.47,91.46 L371.65,91.46 L371.83,91.46 L372.01,91.46 L372.18,91.46 L372.36,91.46 L372.54,91.46 L372.72,91.46 L372.90,91.46 L373.07,91.46 L373.25,91.46 L373.43,91.46 L373.61,91.46 L373.78,91.46 L373.96,91.46 L374.14,91.46 L374.32,91.46 L374.49,91.46 L374.67,91.46 L374.85,91.46 L375.03,91.46 L375.21,91.46 L375.38,91.46 L375.56,91.46 L375.74,91.46 L375.92,91.46 L376.09,91.46 L376.27,91.46 L376.45,91.46 L376.63,91.46 L376.80,91.46 L376.98,91.46 L377.16,91.46 L377.34,91.46 L377.51,91.46 L377.69,91.46 L377.87,91.46 L378.05,91.46 L378.23,91.46 L378.40,91.46 L378.58,91.46 L378.76,91.46 L378.94,91.46 L379.11,91.46 L379.29,91.46 L379.47,91.46 L379.65,91.46 L379.82,91.46 L380.00,91.46 L380.18,91.46 L380.36,91.46 L380.54,91.46 L380.71,91.46 L380.89,91.46 L381.07,91.46 L381.25,91.46 L381.42,91.46 L381.60,91.46 L381.78,91.46 L381.96,91.46 L382.13,91.46 L382.31,91.46 L382.49,91.46 L382.67,91.46 L382.85,91.46 L383.02,91.46 L383.20,91.46 L383.38,91.46 L383.56,91.46 L383.73,91.46 L383.91,91.46 L384.09,91.46 L384.27,91.46 L384.44,91.46 L384.62,91.46 L384.80,91.46 L384.98,91.46 L385.16,91.46 L385.33,91.46 L385.51,91.46 L385.69,91.46 L385.87,91.46 L386.04,91.46 L386.22,91.46 L386.40,91.46 L386.58,91.46 L386.75,91.46 L386.93,91.46 L387.11,91.46 L387.29,91.46 L387.46,91.46 L387.64,91.46 L387.82,91.46 L388.00,91.46 L388.18,91.46 L388.35,91.46 L388.53,91.46 L388.71,91.46 L388.89,91.46 L389.06,91.46 L389.24,91.46 L389.42,91.46 L389.60,91.46 L389.77,91.46 L389.95,91.46 L390.13,91.46 L390.31,91.46 L390.49,91.46 L390.66,91.46 L390.84,91.46 L391.02,91.46 L391.20,91.46 L391.37,91.46 L391.55,91.46 L391.73,91.46 L391.91,91.46 L392.08,91.46 L392.26,91.46 L392.44,91.46 L392.62,91.46 L392.80,91.46 L392.97,91.46 L393.15,91.46 L393.33,91.46 L393.51,91.46 L393.68,91.46 L393.86,91.46 L394.04,91.46 L394.22,91.46 L394.39,91.46 L394.57,91.46 L394.75,91.46 L394.93,91.46 L395.11,91.46 L395.28,91.46 L395.46,91.46 L395.64,91.46 L395.82,91.46 L395.99,91.46 L396.17,91.46 L396.35,91.46 L396.53,91.46 L396.70,91.46 L396.88,91.46 L397.06,91.46 L397.24,91.46 L397.42,91.46 L397.59,91.46 L397.77,91.46 L397.95,91.46 L398.13,91.46 L398.30,91.46 L398.48,91.46 L398.66,91.46 L398.84,91.46 L399.01,91.46 L399.19,91.46 L399.37,91.46 L399.55,91.46 L399.72,91.46 L399.90,91.46 L400.08,91.46 L400.26,91.46 L400.44,91.46 L400.61,91.46 L400.79,91.46 L400.97,91.46 L401.15,91.46 L401.32,91.46 L401.50,91.46 L401.68,91.46 L401.86,91.46 L402.03,91.46 L402.21,91.46 L402.39,91.46 L402.57,91.46 L402.75,91.46 L402.92,91.46 L403.10,91.46 L403.28,91.46 L403.46,91.46 L403.63,91.46 L403.81,91.46 L403.99,91.46 L404.17,91.46 L404.34,91.46 L404.52,91.46 L404.70,91.46 L404.88,91.46 L405.06,91.46 L405.23,91.46 L405.41,91.46 L405.59,91.46 L405.77,91.46 L405.94,91.46 L406.12,91.46 L406.30,91.46 L406.48,91.46 L406.65,91.46 L406.83,91.46 L407.01,91.46 L407.19,91.46 L407.37,91.46 L407.54,91.46 L407.72,91.46 L407.90,91.46 L408.08,91.46 L408.25,91.46 L408.43,91.46 L408.61,91.46 L408.79,91.46 L408.96,91.46 L409.14,91.46 L409.32,91.46 L409.50,91.46 L409.67,91.46 L409.85,91.46 L410.03,91.46 L410.21,91.46 L410.39,91.46 L410.56,91.46 L410.74,91.46 L410.92,91.46 L411.10,91.46 L411.27,91.46 L411.45,91.46 L411.63,91.46 L411.81,91.46 L411.98,91.46 L412.16,91.46 L412.34,91.46 L412.52,91.46 L412.70,91.46 L412.87,91.46 L413.05,91.46 L413.23,91.46 L413.41,91.46 L413.58,91.46 L413.76,91.46 L413.94,91.46 L414.12,91.46 L414.29,91.46 L414.47,91.46 L414.65,91.46 L414.83,91.46 L415.01,91.46 L415.18,91.46 L415.36,91.46 L415.54,91.46 L415.72,91.46 L415.89,91.46 L416.07,91.46 L416.25,91.46 L416.43,91.46 L416.60,91.46 L416.78,91.46 L416.96,91.46 L417.14,91.46 L417.32,91.46 L417.49,91.46 L417.67,91.46 L417.85,91.46 L418.03,91.46 L418.20,91.46 L418.38,91.46 L418.56,91.46 L418.74,91.46 L418.91,91.46 L419.09,91.46 L419.27,91.46 L419.45,91.46 L419.63,91.46 L419.80,91.46 L419.98,91.46 L420.16,91.46 L420.34,91.46 L420.51,91.46 L420.69,91.46 L420.87,91.46 L421.05,91.46 L421.22,91.46 L421.40,91.46 L421.58,91.46 L421.76,91.46 L421.93,91.46 L422.11,91.46 L422.29,91.46 L422.47,91.46 L422.65,91.46 L422.82,91.46 L423.00,91.46 L423.18,91.46 L423.36,91.46 L423.53,91.46 L423.71,91.46 L423.89,91.46 L424.07,91.46 L424.24,91.46 L424.42,91.46 L424.60,91.46 L424.78,91.46 L424.96,91.46 L425.13,91.46 L425.31,91.46 L425.49,91.46 L425.67,91.46 L425.84,91.46 L426.02,91.46 L426.20,91.46 L426.38,91.46 L426.55,91.46 L426.73,91.46 L426.91,91.46 L427.09,91.46 L427.27,91.46 L427.44,91.46 L427.62,91.46 L427.80,91.46 L427.98,91.46 L428.15,91.46 L428.33,91.46 L428.51,91.46 L428.69,91.46 L428.86,91.46 L429.04,91.46 L429.22,91.46 L429.40,91.46 L429.58,91.46 L429.75,91.46 L429.93,91.46 L430.11,91.46 L430.29,91.46 L430.46,91.46 L430.64,91.46 L430.82,91.46 L431.00,91.46 L431.17,91.46 L431.35,91.46 L431.53,91.46 L431.71,91.46 L431.88,91.46 L432.06,91.46 L432.24,91.46 L432.42,91.46 L432.60,91.46 L432.77,91.46 L432.95,91.46 L433.13,91.46 L433.31,91.46 L433.48,91.46 L433.66,91.46 L433.84,91.46 L434.02,91.46 L434.19,91.46 L434.37,91.46 L434.55,91.46 L434.73,91.46 L434.91,91.46 L435.08,91.46 L435.26,91.46 L435.44,91.46 L435.62,91.46 L435.79,91.46 L435.97,91.46 L436.15,91.46 L436.33,91.46 L436.50,91.46 L436.68,91.46 L436.86,91.46 L437.04,91.46 L437.22,91.46 L437.39,91.46 L437.57,91.46 L437.75,91.46 L437.93,91.46 L438.10,91.46 L438.28,91.46 L438.46,91.46 L438.64,91.46 L438.81,91.46 L438.99,91.46 L439.17,91.46 L439.35,91.46 L439.53,91.46 L439.70,91.46 L439.88,91.46 L440.06,91.46 L440.24,91.46 L440.41,91.46 L440.59,91.46 L440.77,91.46 L440.95,91.46 L441.12,91.46 L441.30,91.46 L441.48,91.46 L441.66,91.46 L441.84,91.46 L442.01,91.46 L442.19,91.46 L442.37,91.46 L442.55,91.46 L442.72,91.46 L442.90,91.46 L443.08,91.46 L443.26,91.46 L443.43,91.46 L443.61,91.46 L443.79,91.46 L443.97,91.46 L444.14,91.46 L444.32,91.46 L444.50,91.46 L444.68,91.46 L444.86,91.46 L445.03,91.46 L445.21,91.46 L445.39,91.46 L445.57,91.46 L445.74,91.46 L445.92,91.46 L446.10,91.46 L446.28,91.46 L446.45,91.46 L446.63,91.46 L446.81,91.46 L446.99,91.46 L447.17,91.46 L447.34,91.46 L447.52,91.46 L447.70,91.46 L447.88,91.46 L448.05,91.46 L448.23,91.46 L448.41,91.46 L448.59,91.46 L448.76,91.46 L448.94,91.46 L449.12,91.46 L449.30,91.46 L449.48,91.46 L449.65,91.46 L449.83,91.46 L450.01,91.46 L450.19,91.46 L450.36,91.46 L450.54,91.46 L450.72,91.46 L450.90,91.46 L451.07,91.46 L451.25,91.46 L451.43,91.46 L451.61,91.46 L451.79,91.46 L451.96,91.46 L452.14,91.46 L452.32,91.46 L452.50,91.46 L452.67,91.46 L452.85,91.46 L453.03,91.46 L453.21,91.46 L453.38,91.46 L453.56,91.46 L453.74,91.46 L453.92,91.46 L454.09,91.46 L454.27,91.46 L454.45,91.46 L454.63,91.46 L454.81,91.46 L454.98,91.46 L455.16,91.46 L455.34,91.46 L455.52,91.46 L455.69,91.46 L455.87,91.46 L456.05,91.46 L456.23,91.46 L456.40,91.46 L456.58,91.46 L456.76,91.46 L456.94,91.46 L457.12,91.46 L457.29,91.46 L457.47,91.46 L457.65,91.46 L457.83,91.46 L458.00,91.46 L458.18,91.46 L458.36,91.46 L458.54,91.46 L458.71,91.46 L458.89,91.46 L459.07,91.46 L459.25,91.46 L459.43,91.46 L459.60,91.46 L459.78,91.46 L459.96,91.46 L460.14,91.46 L460.31,91.46 L460.49,91.46 L460.67,91.46 L460.85,91.46 L461.02,91.46 L461.20,91.46 L461.38,91.46 L461.56,91.46 L461.74,91.46 L461.91,91.46 L462.09,91.46 L462.27,91.46 L462.45,91.46 L462.62,91.46 L462.80,91.46 L462.98,91.46 L463.16,91.46 L463.33,91.46 L463.51,91.46 L463.69,91.46 L463.87,91.46 L464.05,91.46 L464.22,91.46 L464.40,91.46 L464.58,91.46 L464.76,91.46 L464.93,91.46 L465.11,91.46 L465.29,91.46 L465.47,91.46 L465.64,91.46 L465.82,91.46 L466.00,91.46 L466.18,91.46 L466.35,91.46 L466.53,91.46 L466.71,91.46 L466.89,91.46 L467.07,91.46 L467.24,91.46 L467.42,91.46 L467.60,91.46 L467.78,91.46 L467.95,91.46 L468.13,91.46 L468.31,91.46 L468.49,91.46 L468.66,91.46 L468.84,91.46 L469.02,91.46 L469.20,91.46 L469.38,91.46 L469.55,91.46 L469.73,91.46 L469.91,91.46 L470.09,91.46 L470.26,91.46 L470.44,91.46 L470.62,91.46 L470.80,91.46 L470.97,91.46 L471.15,91.46 L471.33,91.46 L471.51,91.46 L471.69,91.46 L471.86,91.46 L472.04,91.46 L472.22,91.46 L472.40,91.46 L472.57,91.46 L472.75,91.46 L472.93,91.46 L473.11,91.46 L473.28,91.46 L473.46,91.46 L473.64,91.46 L473.82,91.46 L474.00,91.46 L474.17,91.46 L474.35,91.46 L474.53,91.46 L474.71,91.46 L474.88,91.46 L475.06,91.46 L475.24,91.46 L475.42,91.46 L475.59,91.46 L475.77,91.46 L475.95,91.46 L476.13,91.46 L476.30,91.46 L476.48,91.46 L476.66,91.46 L476.84,91.46 L477.02,91.46 L477.19,91.46 L477.37,91.46 L477.55,91.46 L477.73,91.46 L477.90,91.46 L478.08,91.46 L478.26,91.46 L478.44,91.46 L478.61,91.46 L478.79,91.46 L478.97,91.46 L479.15,91.46 L479.33,91.46 L479.50,91.46 L479.68,91.46 L479.86,91.46 L480.04,91.46 L480.21,91.46 L480.39,91.46 L480.57,91.46 L480.75,91.46 L480.92,91.46 L481.10,91.46 L481.28,91.46 L481.46,91.46 L481.64,91.46 L481.81,91.46 L481.99,91.46 L482.17,91.46 L482.35,91.46 L482.52,91.46 L482.70,91.46 L482.88,91.46 L483.06,91.46 L483.23,91.46 L483.41,91.46 L483.59,91.46 L483.77,91.46 L483.95,91.46 L484.12,91.46 L484.30,91.46 L484.48,91.46 L484.66,91.46 L484.83,91.46 L485.01,91.46 L485.19,91.46 L485.37,91.46 L485.54,91.46 L485.72,91.46 L485.90,91.46 L486.08,91.46 L486.26,91.46 L486.43,91.46 L486.61,91.46 L486.79,91.46 L486.97,91.46 L487.14,91.46 L487.32,91.46 L487.50,91.46 L487.68,91.46 L487.85,91.46 L488.03,91.46 L488.21,91.46 L488.39,91.46 L488.56,91.46 L488.74,91.46 L488.92,91.46 L489.10,91.46 L489.28,91.46 L489.45,91.46 L489.63,91.46 L489.81,91.46 L489.99,91.46 L490.16,91.46 L490.34,91.46 L490.52,91.46 L490.70,91.46 L490.87,91.46 L491.05,91.46 L491.23,91.46 L491.41,91.46 L491.59,91.46 L491.76,91.46 L491.94,91.46 L492.12,91.46 L492.30,91.46 L492.47,91.46 L492.65,91.46 L492.83,91.46 L493.01,91.46 L493.18,91.46 L493.36,91.46 L493.54,91.46 L493.72,91.46 L493.90,91.46 L494.07,91.46 L494.25,91.46 L494.43,91.46 L494.61,91.46 L494.78,91.46 L494.96,91.46 L495.14,91.46 L495.32,91.46 L495.49,91.46 L495.67,91.46 L495.85,91.46 L496.03,91.46 L496.21,91.46 L496.38,91.46 L496.56,91.46 L496.74,91.46 L496.92,91.46 L497.09,91.46 L497.27,91.46 L497.45,91.46 L497.63,91.46 L497.80,91.46 L497.98,91.46 L498.16,91.46 L498.34,91.46 L498.51,91.46 L498.69,91.46 L498.87,91.46 L499.05,91.46 L499.23,91.46 L499.40,91.46 L499.58,91.46 L499.76,91.46 L499.94,91.46 L500.11,91.46 L500.29,91.46 L500.47,91.46 L500.65,91.46 L500.82,91.46 L501.00,91.46 L501.18,91.46 L501.36,91.46 L501.54,91.46 L501.71,91.46 L501.89,91.46 L502.07,91.46 L502.25,91.46 L502.42,91.46 L502.60,91.46 L502.78,91.46 L502.96,91.46 L503.13,91.46 L503.31,91.46 L503.49,91.46 L503.67,91.46 L503.85,91.46 L504.02,91.46 L504.20,91.46 L504.38,91.46 L504.56,91.46 L504.73,91.46 L504.91,91.46 L505.09,91.46 L505.27,91.46 L505.44,91.46 L505.62,91.46 L505.80,91.46 L505.98,91.46 L506.16,91.46 L506.33,91.46 L506.51,91.46 L506.69,91.46 L506.87,91.46 L507.04,91.46 L507.22,91.46 L507.40,91.46 L507.58,91.46 L507.75,91.46 L507.93,91.46 L508.11,91.46 L508.29,91.46 L508.47,91.46 L508.64,91.46 L508.82,91.46 L509.00,91.46 L509.18,91.46 L509.35,91.46 L509.53,91.46 L509.71,91.46 L509.89,91.46 L510.06,91.46 L510.24,91.46 L510.42,91.46 L510.60,91.46 L510.77,91.46 L510.95,91.46 L511.13,91.46 L511.31,91.46 L511.49,91.46 L511.66,91.46 L511.84,91.46 L512.02,91.46 L512.20,91.46 L512.37,91.46 L512.55,91.46 L512.73,91.46 L512.91,91.46 L513.08,91.46 L513.26,91.46 L513.44,91.46 L513.62,91.46 L513.80,91.46 L513.97,91.46 L514.15,91.46 L514.33,91.46 L514.51,91.46 L514.68,91.46 L514.86,91.46 L515.04,91.46 L515.22,91.46 L515.39,91.46 L515.57,91.46 L515.75,91.46 L515.93,91.46 L516.11,91.46 L516.28,91.46 L516.46,91.46 L516.64,91.46 L516.82,91.46 L516.99,91.46 L517.17,91.46 L517.35,91.46 L517.53,91.46 L517.70,91.46 L517.88,91.46 L518.06,91.46 L518.24,91.46 L518.42,91.46 L518.59,91.46 L518.77,91.46 L518.95,91.46 L519.13,91.46 L519.30,91.46 L519.48,91.46 L519.66,91.46 L519.84,91.46 L520.01,91.46 L520.19,91.46 L520.37,91.46 L520.55,91.46 L520.72,91.46 L520.90,91.46 L521.08,91.46 L521.26,91.46 L521.44,91.46 L521.61,91.46 L521.79,91.46 L521.97,91.46 L522.15,91.46 L522.32,91.46 L522.50,91.46 L522.68,91.46 L522.86,91.46 L523.03,91.46 L523.21,91.46 L523.39,91.46 L523.57,91.46 L523.75,91.46 L523.92,91.46 L524.10,91.46 L524.28,91.46 L524.46,91.46 L524.63,91.46 L524.81,91.46 L524.99,91.46 L525.17,91.46 L525.34,91.46 L525.52,91.46 L525.70,91.46" stroke-dasharray="1.7,4.05"/>
</g>
<g stroke="#1e1e1e" stroke-width="1.4" fill="none">
<rect x="81.5" y="23.0" width="444.20" height="342.30"/>
<line x1="81.50" y1="365.30" x2="81.50" y2="360.90"/><line x1="81.50" y1="23.00" x2="81.50" y2="27.40"/><line x1="125.92" y1="365.30" x2="125.92" y2="360.90"/><line x1="125.92" y1="23.00" x2="125.92" y2="27.40"/><line x1="170.34" y1="365.30" x2="170.34" y2="360.90"/><line x1="170.34" y1="23.00" x2="170.34" y2="27.40"/><line x1="214.76" y1="365.30" x2="214.76" y2="360.90"/><line x1="214.76" y1="23.00" x2="214.76" y2="27.40"/><line x1="259.18" y1="365.30" x2="259.18" y2="360.90"/><line x1="259.18" y1="23.00" x2="259.18" y2="27.40"/><line x1="303.60" y1="365.30" x2="303.60" y2="360.90"/><line x1="303.60" y1="23.00" x2="303.60" y2="27.40"/><line x1="348.02" y1="365.30" x2="348.02" y2="360.90"/><line x1="348.02" y1="23.00" x2="348.02" y2="27.40"/><line x1="392.44" y1="365.30" x2="392.44" y2="360.90"/><line x1="392.44" y1="23.00" x2="392.44" y2="27.40"/><line x1="436.86" y1="365.30" x2="436.86" y2="360.90"/><line x1="436.86" y1="23.00" x2="436.86" y2="27.40"/><line x1="481.28" y1="365.30" x2="481.28" y2="360.90"/><line x1="481.28" y1="23.00" x2="481.28" y2="27.40"/><line x1="525.70" y1="365.30" x2="525.70" y2="360.90"/><line x1="525.70" y1="23.00" x2="525.70" y2="27.40"/><line x1="81.50" y1="365.30" x2="85.90" y2="365.30"/><line x1="525.70" y1="365.30" x2="521.30" y2="365.30"/><line x1="81.50" y1="296.84" x2="85.90" y2="296.84"/><line x1="525.70" y1="296.84" x2="521.30" y2="296.84"/><line x1="81.50" y1="228.38" x2="85.90" y2="228.38"/><line x1="525.70" y1="228.38" x2="521.30" y2="228.38"/><line x1="81.50" y1="159.92" x2="85.90" y2="159.92"/><line x1="525.70" y1="159.92" x2="521.30" y2="159.92"/><line x1="81.50" y1="91.46" x2="85.90" y2="91.46"/><line x1="525.70" y1="91.46" x2="521.30" y2="91.46"/><line x1="81.50" y1="23.00" x2="85.90" y2="23.00"/><line x1="525.70" y1="23.00" x2="521.30" y2="23.00"/>
</g>
<g font-size="18">
<text x="81.50" y="390.60" text-anchor="middle">0</text><text x="125.92" y="390.60" text-anchor="middle">5</text><text x="170.34" y="390.60" text-anchor="middle">10</text><text x="214.76" y="390.60" text-anchor="middle">15</text><text x="259.18" y="390.60" text-anchor="middle">20</text><text x="303.60" y="390.60" text-anchor="middle">25</text><text x="348.02" y="390.60" text-anchor="middle">30</text><text x="392.44" y="390.60" text-anchor="middle">35</text><text x="436.86" y="390.60" text-anchor="middle">40</text><text x="481.28" y="390.60" text-anchor="middle">45</text><text x="525.70" y="390.60" text-anchor="middle">50</text><text x="72.8" y="372.70" text-anchor="end">-1</text><text x="72.8" y="304.24" text-anchor="end">-0.5</text><text x="72.8" y="235.78" text-anchor="end">0</text><text x="72.8" y="167.32" text-anchor="end">0.5</text><text x="72.8" y="98.86" text-anchor="end">1</text><text x="72.8" y="30.40" text-anchor="end">1.5</text>
</g>
<g font-size="22.5">
<text x="303.5" y="415" text-anchor="middle"><tspan font-style="italic">t</tspan> (UT)</text>
<text transform="translate(31,194) rotate(-90)" text-anchor="middle"><tspan font-style="italic">y</tspan> (%TO)</text>
</g>
<g>
<rect x="406.8" y="150.6" width="100" height="87.6" fill="#fff" stroke="#262626" stroke-width="1.2"/>
<g stroke="#000" stroke-width="1.5" fill="none">
<line x1="412" y1="163.1" x2="456" y2="163.1" stroke-width="1.7"/>
<line x1="412" y1="184.1" x2="456" y2="184.1" stroke-dasharray="12,4.5,2,4.5"/>
<line x1="412" y1="204.4" x2="456" y2="204.4" stroke-dasharray="14.5,8.5"/>
<line x1="412.1" y1="225" x2="456" y2="225" stroke-dasharray="1.7,4.05"/>
</g>
<g font-size="17">
<text x="459.9" y="169.5">CCV</text>
<text x="459.9" y="190.5">WN</text>
<text x="459.9" y="210.8">ZN</text>
<text x="459.9" y="231.2">Chien</text>
</g>
</g>
</svg>
</body></html>
